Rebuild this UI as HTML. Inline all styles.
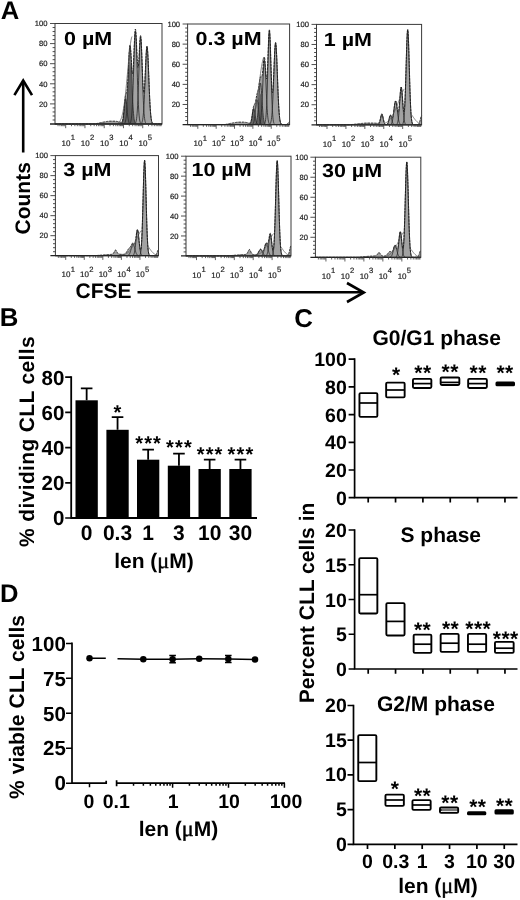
<!DOCTYPE html>
<html lang="en">
<head>
<meta charset="utf-8">
<title>Figure</title>
<style>
html,body{margin:0;padding:0;background:#fff;}
body{width:520px;height:900px;overflow:hidden;}
svg{display:block;}
</style>
</head>
<body>
<svg width="520" height="900" viewBox="0 0 520 900" shape-rendering="geometricPrecision" text-rendering="geometricPrecision">
<rect x="0" y="0" width="520" height="900" fill="#ffffff"/>
<g font-family='"Liberation Sans", sans-serif'>
<text x="0.8" y="19.3" font-size="25.6" font-weight="bold">A</text>
<path d="M55 124 L55 124 L95 124 L95.25 123.91 L95.5 123.84 L95.75 123.78 L96 123.72 L96.25 123.66 L96.5 123.6 L96.75 123.54 L97 123.48 L97.25 123.43 L97.5 123.37 L97.75 123.31 L98 123.26 L98.25 123.2 L98.5 123.15 L98.75 123.09 L99 123.04 L99.25 122.98 L99.5 122.92 L99.75 122.87 L100 122.81 L100.25 122.76 L100.5 122.71 L100.75 122.65 L101 122.6 L101.25 122.54 L101.5 122.49 L101.75 122.44 L102 122.38 L102.25 122.33 L102.5 122.28 L102.75 122.23 L103 122.18 L103.25 122.13 L103.5 122.08 L103.75 122.03 L104 121.98 L104.25 121.94 L104.5 121.89 L104.75 121.85 L105 121.8 L105.25 121.76 L105.5 121.72 L105.75 121.67 L106 121.63 L106.25 121.59 L106.5 121.56 L106.75 121.52 L107 121.48 L107.25 121.45 L107.5 121.41 L107.75 121.38 L108 121.35 L108.25 121.32 L108.5 121.3 L108.75 121.27 L109 121.24 L109.75 121.18 L110 121.16 L115 121.19 L115.25 121.22 L115.5 121.24 L115.75 121.27 L116 121.3 L116.25 121.34 L116.5 121.37 L116.75 121.41 L117 121.45 L117.25 121.49 L117.5 121.53 L117.75 121.58 L118 121.63 L118.25 121.68 L118.5 121.74 L118.75 121.79 L119 121.85 L119.25 121.91 L119.5 121.98 L119.75 122.04 L120 122.11 L120.25 122.17 L120.5 122.23 L120.75 122.28 L121 122.31 L121.25 122.3 L121.5 122.24 L121.75 122.1 L122 121.84 L122.25 121.42 L122.5 120.78 L122.75 119.87 L123 118.64 L123.25 117.06 L123.5 115.12 L123.75 112.85 L124 110.36 L124.25 107.47 L124.5 104.55 L124.75 101.76 L125 99.25 L125.25 97.14 L125.5 95.52 L125.75 94.36 L126 93.59 L126.25 93.03 L126.5 92.48 L126.75 91.66 L127 90.35 L127.25 88.34 L127.5 85.49 L127.75 81.79 L128 77.31 L128.25 72.21 L128.5 66.77 L128.75 61.29 L129 56.15 L129.25 51.67 L129.5 48.18 L129.75 45.9 L130 45 L130.25 45.5 L130.5 47.33 L130.75 50.3 L131 54.12 L131.25 58.44 L131.5 62.85 L131.75 66.93 L132 70.3 L132.25 72.61 L132.5 73.61 L132.75 73.12 L133 71.12 L133.25 67.69 L133.5 63.04 L133.75 57.47 L134 51.41 L134.25 45.3 L134.5 39.63 L134.75 34.84 L135 31.32 L135.25 29.36 L135.5 29.11 L135.75 30.57 L136 33.6 L136.25 37.91 L136.5 43.12 L136.75 48.76 L137 54.33 L137.25 59.35 L137.5 63.39 L137.75 66.13 L138 67.34 L138.25 66.95 L138.5 65.03 L138.75 61.78 L139 57.51 L139.25 52.65 L139.5 47.65 L139.75 43.01 L140 39.18 L140.25 36.55 L140.5 35.4 L140.75 35.91 L141 38.09 L141.25 41.84 L141.5 46.93 L141.75 53.03 L142 59.76 L142.25 66.69 L142.5 73.41 L142.75 79.54 L143 84.74 L143.25 88.76 L143.5 91.43 L143.75 92.63 L144 92.36 L144.25 90.68 L144.5 87.7 L144.75 83.63 L145 78.7 L145.25 73.21 L145.5 67.49 L145.75 61.87 L146 56.7 L146.25 52.3 L146.5 48.95 L146.75 46.87 L147 46.2 L147.25 46.99 L147.5 49.21 L147.75 52.75 L148 57.4 L148.25 62.93 L148.5 69.07 L148.75 75.53 L149 82.04 L149.25 88.36 L149.5 94.31 L149.75 99.73 L150 104.53 L150.25 108.68 L150.5 112.16 L150.75 115.02 L151 117.31 L151.25 119.11 L151.5 120.48 L151.75 121.51 L152 122.27 L152.25 122.81 L152.5 123.19 L152.75 123.45 L153 123.63 L153.25 123.75 L153.5 123.82 L153.75 123.87 L154 123.91 L154.25 123.93 L162 124 L162 124Z" fill="#a2a2a2" stroke="none"/>
<path d="M124.75 124 L124.75 123.31 L125 122.95 L125.25 122.44 L125.5 121.72 L125.75 120.75 L126 119.44 L126.25 117.75 L126.5 115.6 L126.75 112.93 L127 109.71 L127.25 105.94 L127.5 101.62 L127.75 96.83 L128 91.68 L128.25 86.34 L128.5 81 L128.75 75.89 L129 71.26 L129.25 67.36 L129.5 64.39 L129.75 62.54 L130 61.91 L130.25 62.54 L130.5 64.39 L130.75 67.36 L131 71.26 L131.25 75.89 L131.5 81 L131.75 86.34 L132 91.68 L132.25 96.83 L132.5 101.62 L132.75 105.94 L133 109.71 L133.25 112.93 L133.5 115.6 L133.75 117.75 L134 119.44 L134.25 120.75 L134.5 121.72 L134.75 122.44 L135 122.95 L135.25 123.31 L135.25 124Z" fill="#5e5e5e" stroke="none"/>
<path d="M121.6 124 L121.6 123.57 L121.85 123.3 L122.1 122.88 L122.35 122.28 L122.6 121.44 L122.85 120.3 L123.1 118.83 L123.35 117.01 L123.6 114.83 L123.85 112.35 L124.1 109.67 L124.35 106.92 L124.6 104.28 L124.85 101.96 L125.1 100.13 L125.35 98.96 L125.6 98.56 L125.85 98.96 L126.1 100.13 L126.35 101.96 L126.6 104.28 L126.85 106.92 L127.1 109.67 L127.35 112.35 L127.6 114.83 L127.85 117.01 L128.1 118.83 L128.35 120.3 L128.6 121.44 L128.85 122.28 L129.1 122.88 L129.35 123.3 L129.6 123.57 L129.6 124Z" fill="#666" stroke="none"/>
<path d="M121.35 123.75 L121.6 123.57 L121.85 123.3 L122.1 122.88 L122.35 122.28 L122.6 121.44 L122.85 120.3 L123.1 118.83 L123.35 117.01 L123.6 114.83 L123.85 112.35 L124.1 109.67 L124.35 106.92 L124.6 104.28 L124.85 101.96 L125.1 100.13 L125.35 98.96 L125.6 98.56 L125.85 98.96 L126.1 100.13 L126.35 101.96 L126.6 104.28 L126.85 106.92 L127.1 109.67 L127.35 112.35 L127.6 114.83 L127.85 117.01 L128.1 118.83 L128.35 120.3 L128.6 121.44 L128.85 122.28 L129.1 122.88 L129.35 123.3 L129.6 123.57 L129.85 123.75" fill="none" stroke="#262626" stroke-width="0.8"/>
<path d="M124.5 123.44 L124.75 123.14 L125 122.69 L125.25 122.05 L125.5 121.15 L125.75 119.93 L126 118.31 L126.25 116.19 L126.5 113.5 L126.75 110.16 L127 106.14 L127.25 101.42 L127.5 96.02 L127.75 90.04 L128 83.61 L128.25 76.92 L128.5 70.25 L128.75 63.86 L129 58.08 L129.25 53.2 L129.5 49.49 L129.75 47.17 L130 46.38 L130.25 47.17 L130.5 49.49 L130.75 53.2 L131 58.08 L131.25 63.86 L131.5 70.25 L131.75 76.92 L132 83.61 L132.25 90.04 L132.5 96.02 L132.75 101.42 L133 106.14 L133.25 110.16 L133.5 113.5 L133.75 116.19 L134 118.31 L134.25 119.93 L134.5 121.15 L134.75 122.05 L135 122.69 L135.25 123.14 L135.5 123.44" fill="none" stroke="#262626" stroke-width="0.8"/>
<path d="M130.15 123.21 L130.4 122.78 L130.65 122.13 L130.9 121.21 L131.15 119.93 L131.4 118.19 L131.65 115.88 L131.9 112.88 L132.15 109.11 L132.4 104.49 L132.65 98.99 L132.9 92.61 L133.15 85.45 L133.4 77.67 L133.65 69.51 L133.9 61.29 L134.15 53.37 L134.4 46.15 L134.65 40.03 L134.9 35.36 L135.15 32.44 L135.4 31.44 L135.65 32.44 L135.9 35.36 L136.15 40.03 L136.4 46.15 L136.65 53.37 L136.9 61.29 L137.15 69.51 L137.4 77.67 L137.65 85.45 L137.9 92.61 L138.15 98.99 L138.4 104.49 L138.65 109.11 L138.9 112.88 L139.15 115.88 L139.4 118.19 L139.65 119.93 L139.9 121.21 L140.15 122.13 L140.4 122.78 L140.65 123.21" fill="none" stroke="#262626" stroke-width="0.8"/>
<path d="M135.35 123.26 L135.6 122.85 L135.85 122.25 L136.1 121.39 L136.35 120.19 L136.6 118.56 L136.85 116.39 L137.1 113.58 L137.35 110.05 L137.6 105.72 L137.85 100.56 L138.1 94.59 L138.35 87.88 L138.6 80.59 L138.85 72.95 L139.1 65.24 L139.35 57.82 L139.6 51.05 L139.85 45.32 L140.1 40.95 L140.35 38.21 L140.6 37.28 L140.85 38.21 L141.1 40.95 L141.35 45.32 L141.6 51.05 L141.85 57.82 L142.1 65.24 L142.35 72.95 L142.6 80.59 L142.85 87.88 L143.1 94.59 L143.35 100.56 L143.6 105.72 L143.85 110.05 L144.1 113.58 L144.35 116.39 L144.6 118.56 L144.85 120.19 L145.1 121.39 L145.35 122.25 L145.6 122.85 L145.85 123.26" fill="none" stroke="#262626" stroke-width="0.8"/>
<path d="M141.25 123.53 L141.5 123.27 L141.75 122.9 L142 122.37 L142.25 121.62 L142.5 120.6 L142.75 119.24 L143 117.45 L143.25 115.17 L143.5 112.32 L143.75 108.84 L144 104.71 L144.25 99.92 L144.5 94.51 L144.75 88.58 L145 82.27 L145.25 75.77 L145.5 69.33 L145.75 63.21 L146 57.7 L146.25 53.07 L146.5 49.56 L146.75 47.38 L147 46.63 L147.25 47.38 L147.5 49.56 L147.75 53.07 L148 57.7 L148.25 63.21 L148.5 69.33 L148.75 75.77 L149 82.27 L149.25 88.58 L149.5 94.51 L149.75 99.92 L150 104.71 L150.25 108.84 L150.5 112.32 L150.75 115.17 L151 117.45 L151.25 119.24 L151.5 120.6 L151.75 121.62 L152 122.37 L152.25 122.9 L152.5 123.27 L152.75 123.53" fill="none" stroke="#262626" stroke-width="0.8"/>
<path d="M55 124 L95 124 L95.25 123.91 L95.5 123.84 L95.75 123.78 L96 123.72 L96.25 123.66 L96.5 123.6 L96.75 123.54 L97 123.48 L97.25 123.43 L97.5 123.37 L97.75 123.31 L98 123.26 L98.25 123.2 L98.5 123.15 L98.75 123.09 L99 123.04 L99.25 122.98 L99.5 122.92 L99.75 122.87 L100 122.81 L100.25 122.76 L100.5 122.71 L100.75 122.65 L101 122.6 L101.25 122.54 L101.5 122.49 L101.75 122.44 L102 122.38 L102.25 122.33 L102.5 122.28 L102.75 122.23 L103 122.18 L103.25 122.13 L103.5 122.08 L103.75 122.03 L104 121.98 L104.25 121.94 L104.5 121.89 L104.75 121.85 L105 121.8 L105.25 121.76 L105.5 121.72 L105.75 121.67 L106 121.63 L106.25 121.59 L106.5 121.56 L106.75 121.52 L107 121.48 L107.25 121.45 L107.5 121.41 L107.75 121.38 L108 121.35 L108.25 121.32 L108.5 121.3 L108.75 121.27 L109 121.24 L109.75 121.18 L110 121.16 L115 121.19 L115.25 121.22 L115.5 121.24 L115.75 121.27 L116 121.3 L116.25 121.34 L116.5 121.37 L116.75 121.41 L117 121.45 L117.25 121.49 L117.5 121.53 L117.75 121.58 L118 121.63 L118.25 121.68 L118.5 121.74 L118.75 121.79 L119 121.85 L119.25 121.91 L119.5 121.98 L119.75 122.04 L120 122.11 L120.25 122.17 L120.5 122.23 L120.75 122.28 L121 122.31 L121.25 122.3 L121.5 122.24 L121.75 122.1 L122 121.84 L122.25 121.42 L122.5 120.78 L122.75 119.87 L123 118.64 L123.25 117.06 L123.5 115.12 L123.75 112.85 L124 110.36 L124.25 107.47 L124.5 104.55 L124.75 101.76 L125 99.25 L125.25 97.14 L125.5 95.52 L125.75 94.36 L126 93.59 L126.25 93.03 L126.5 92.48 L126.75 91.66 L127 90.35 L127.25 88.34 L127.5 85.49 L127.75 81.79 L128 77.31 L128.25 72.21 L128.5 66.77 L128.75 61.29 L129 56.15 L129.25 51.67 L129.5 48.18 L129.75 45.9 L130 45 L130.25 45.5 L130.5 47.33 L130.75 50.3 L131 54.12 L131.25 58.44 L131.5 62.85 L131.75 66.93 L132 70.3 L132.25 72.61 L132.5 73.61 L132.75 73.12 L133 71.12 L133.25 67.69 L133.5 63.04 L133.75 57.47 L134 51.41 L134.25 45.3 L134.5 39.63 L134.75 34.84 L135 31.32 L135.25 29.36 L135.5 29.11 L135.75 30.57 L136 33.6 L136.25 37.91 L136.5 43.12 L136.75 48.76 L137 54.33 L137.25 59.35 L137.5 63.39 L137.75 66.13 L138 67.34 L138.25 66.95 L138.5 65.03 L138.75 61.78 L139 57.51 L139.25 52.65 L139.5 47.65 L139.75 43.01 L140 39.18 L140.25 36.55 L140.5 35.4 L140.75 35.91 L141 38.09 L141.25 41.84 L141.5 46.93 L141.75 53.03 L142 59.76 L142.25 66.69 L142.5 73.41 L142.75 79.54 L143 84.74 L143.25 88.76 L143.5 91.43 L143.75 92.63 L144 92.36 L144.25 90.68 L144.5 87.7 L144.75 83.63 L145 78.7 L145.25 73.21 L145.5 67.49 L145.75 61.87 L146 56.7 L146.25 52.3 L146.5 48.95 L146.75 46.87 L147 46.2 L147.25 46.99 L147.5 49.21 L147.75 52.75 L148 57.4 L148.25 62.93 L148.5 69.07 L148.75 75.53 L149 82.04 L149.25 88.36 L149.5 94.31 L149.75 99.73 L150 104.53 L150.25 108.68 L150.5 112.16 L150.75 115.02 L151 117.31 L151.25 119.11 L151.5 120.48 L151.75 121.51 L152 122.27 L152.25 122.81 L152.5 123.19 L152.75 123.45 L153 123.63 L153.25 123.75 L153.5 123.82 L153.75 123.87 L154 123.91 L154.25 123.93 L162 124" fill="none" stroke="#1a1a1a" stroke-width="0.9" stroke-dasharray="2.6 0.8"/>
<path d="M118 123.08 L118.5 122.75 L119 122.31 L119.5 121.75 L120 121.04 L120.5 120.13 L121 119.01 L121.5 117.63 L122 115.96 L122.5 113.95 L123 111.59 L123.5 108.83 L124 105.65 L124.5 102.06 L125 98.04 L125.5 93.61 L126 88.82 L126.5 83.71 L127 78.36 L127.5 72.85 L128 67.29 L128.5 61.81 L129 56.54 L129.5 51.61 L130 47.16 L130.5 43.32 L131 40.19 L131.5 37.89 L132 36.48" fill="none" stroke="#555" stroke-width="0.7"/>
<rect x="55" y="23.5" width="107" height="100.5" fill="none" stroke="#3a3a3a" stroke-width="1"/>
<path d="M50 124 H162" stroke="#222" stroke-width="1.3"/>
<path d="M52.6 119.98h2.4 M52.6 115.96h2.4 M52.6 111.94h2.4 M52.6 107.92h2.4 M50 103.9h5 M52.6 99.88h2.4 M52.6 95.86h2.4 M52.6 91.84h2.4 M52.6 87.82h2.4 M50 83.8h5 M52.6 79.78h2.4 M52.6 75.76h2.4 M52.6 71.74h2.4 M52.6 67.72h2.4 M50 63.7h5 M52.6 59.68h2.4 M52.6 55.66h2.4 M52.6 51.64h2.4 M52.6 47.62h2.4 M50 43.6h5 M52.6 39.58h2.4 M52.6 35.56h2.4 M52.6 31.54h2.4 M52.6 27.52h2.4 M50 23.5h5" stroke="#3a3a3a" stroke-width="0.9" fill="none"/>
<text x="47.5" y="106.6" text-anchor="end" font-size="7.6" fill="#222" stroke="#222" stroke-width="0.2">20</text>
<text x="47.5" y="86.5" text-anchor="end" font-size="7.6" fill="#222" stroke="#222" stroke-width="0.2">40</text>
<text x="47.5" y="66.4" text-anchor="end" font-size="7.6" fill="#222" stroke="#222" stroke-width="0.2">60</text>
<text x="47.5" y="46.3" text-anchor="end" font-size="7.6" fill="#222" stroke="#222" stroke-width="0.2">80</text>
<text x="47.5" y="26.2" text-anchor="end" font-size="7.6" fill="#222" stroke="#222" stroke-width="0.2">100</text>
<path d="M58.04 124v2.2 M59.9 124v2.2 M61.43 124v2.2 M62.72 124v2.2 M63.83 124v2.2 M64.82 124v2.2 M65.7 124v4.2 M71.5 124v2.2 M74.89 124v2.2 M77.3 124v2.2 M79.16 124v2.2 M80.69 124v2.2 M81.98 124v2.2 M83.09 124v2.2 M84.08 124v2.2 M84.96 124v4.2 M90.76 124v2.2 M94.15 124v2.2 M96.56 124v2.2 M98.42 124v2.2 M99.95 124v2.2 M101.24 124v2.2 M102.35 124v2.2 M103.34 124v2.2 M104.22 124v4.2 M110.02 124v2.2 M113.41 124v2.2 M115.82 124v2.2 M117.68 124v2.2 M119.21 124v2.2 M120.5 124v2.2 M121.61 124v2.2 M122.6 124v2.2 M123.48 124v4.2 M129.28 124v2.2 M132.67 124v2.2 M135.08 124v2.2 M136.94 124v2.2 M138.47 124v2.2 M139.76 124v2.2 M140.87 124v2.2 M141.86 124v2.2 M142.74 124v4.2 M148.54 124v2.2 M151.93 124v2.2 M154.34 124v2.2 M156.2 124v2.2 M157.73 124v2.2 M159.02 124v2.2 M160.13 124v2.2 M161.12 124v2.2" stroke="#3a3a3a" stroke-width="0.8" fill="none"/>
<text x="61.5" y="145.7" font-size="8" fill="#222" stroke="#222" stroke-width="0.2">10<tspan dy="-5.6" dx="0.3" font-size="7.6">1</tspan></text>
<text x="80.76" y="145.7" font-size="8" fill="#222" stroke="#222" stroke-width="0.2">10<tspan dy="-5.6" dx="0.3" font-size="7.6">2</tspan></text>
<text x="100.02" y="145.7" font-size="8" fill="#222" stroke="#222" stroke-width="0.2">10<tspan dy="-5.6" dx="0.3" font-size="7.6">3</tspan></text>
<text x="119.28" y="145.7" font-size="8" fill="#222" stroke="#222" stroke-width="0.2">10<tspan dy="-5.6" dx="0.3" font-size="7.6">4</tspan></text>
<text x="138.54" y="145.7" font-size="8" fill="#222" stroke="#222" stroke-width="0.2">10<tspan dy="-5.6" dx="0.3" font-size="7.6">5</tspan></text>
<text transform="translate(64 45) scale(1.13 1)" font-size="19" font-weight="bold" fill="#000">0 µM</text>
<path d="M187.6 124.6 L187.6 124.6 L224.85 124.6 L225.1 124.56 L225.35 124.49 L225.6 124.43 L225.85 124.37 L226.1 124.31 L226.35 124.26 L226.6 124.2 L226.85 124.15 L227.1 124.1 L227.35 124.04 L227.6 123.99 L227.85 123.94 L228.1 123.89 L228.35 123.83 L228.6 123.78 L228.85 123.73 L229.1 123.68 L229.35 123.63 L229.6 123.57 L229.85 123.52 L230.1 123.47 L230.35 123.42 L230.6 123.37 L230.85 123.32 L231.1 123.27 L231.35 123.22 L231.6 123.17 L231.85 123.12 L232.1 123.07 L232.35 123.03 L232.6 122.98 L232.85 122.93 L233.1 122.89 L233.35 122.84 L233.6 122.8 L233.85 122.75 L234.1 122.71 L234.35 122.67 L234.6 122.63 L234.85 122.59 L235.1 122.55 L235.35 122.51 L235.6 122.48 L235.85 122.44 L236.1 122.41 L236.35 122.37 L236.6 122.34 L236.85 122.31 L237.1 122.28 L237.35 122.26 L237.6 122.23 L237.85 122.21 L238.1 122.18 L238.35 122.16 L243.6 122.14 L243.85 122.17 L244.1 122.19 L244.35 122.22 L244.6 122.25 L244.85 122.28 L245.1 122.31 L245.35 122.35 L245.6 122.39 L245.85 122.43 L246.1 122.47 L246.35 122.52 L246.6 122.57 L246.85 122.62 L247.1 122.67 L247.35 122.72 L247.6 122.78 L247.85 122.84 L248.1 122.9 L248.35 122.97 L248.6 123.02 L248.85 123.08 L249.1 123.12 L249.6 123.13 L249.85 123.07 L250.1 122.93 L250.35 122.7 L250.6 122.32 L250.85 121.78 L251.1 121.04 L251.35 120.08 L251.6 118.89 L251.85 117.51 L252.1 115.92 L252.35 114.09 L252.6 112.23 L252.85 110.44 L253.1 108.82 L253.35 107.44 L253.6 106.35 L253.85 105.55 L254.1 104.99 L254.35 104.59 L254.6 104.22 L254.85 103.79 L255.1 103.2 L255.35 102.38 L255.6 101.32 L255.85 100.06 L256.1 98.67 L256.35 97.24 L256.6 95.88 L256.85 94.66 L257.1 93.6 L257.35 92.69 L257.6 91.88 L257.85 91.07 L258.1 90.16 L258.35 89.07 L258.6 87.74 L258.85 86.17 L259.1 84.41 L259.35 82.58 L259.6 80.8 L259.85 79.22 L260.1 77.97 L260.35 77.12 L260.6 76.69 L260.85 76.61 L261.1 76.75 L261.35 76.93 L261.6 76.94 L261.85 76.58 L262.1 75.69 L262.35 74.19 L262.6 72.07 L262.85 69.45 L263.1 66.51 L263.35 63.52 L263.6 60.79 L263.85 58.61 L264.1 57.27 L264.35 56.93 L264.6 57.71 L264.85 59.55 L265.1 62.31 L265.35 65.72 L265.6 69.42 L265.85 73 L266.1 76.04 L266.35 78.12 L266.6 78.89 L266.85 78.13 L267.1 75.71 L267.35 71.68 L267.6 66.26 L267.85 59.79 L268.1 52.76 L268.35 45.76 L268.6 39.4 L268.85 34.27 L269.1 30.85 L269.35 29.5 L269.6 30.39 L269.85 33.48 L270.1 38.53 L270.35 45.16 L270.6 52.84 L270.85 61.01 L271.1 69.07 L271.35 76.51 L271.6 82.86 L271.85 87.8 L272.1 91.11 L272.35 92.68 L272.6 92.51 L272.85 90.72 L273.1 87.46 L273.35 83 L273.6 77.61 L273.85 71.64 L274.1 65.43 L274.35 59.36 L274.6 53.8 L274.85 49.07 L275.1 45.48 L275.35 43.24 L275.6 42.5 L275.85 43.32 L276.1 45.65 L276.35 49.37 L276.6 54.28 L276.85 60.12 L277.1 66.6 L277.35 73.42 L277.6 80.29 L277.85 86.97 L278.1 93.24 L278.35 98.96 L278.6 104.04 L278.85 108.41 L279.1 112.09 L279.35 115.11 L279.6 117.53 L279.85 119.43 L280.1 120.88 L280.35 121.97 L280.6 122.76 L280.85 123.33 L281.1 123.74 L281.35 124.01 L281.6 124.2 L281.85 124.33 L282.1 124.41 L282.35 124.46 L282.6 124.5 L282.85 124.52 L283.1 124.54 L285.85 124.54 L286.1 124.5 L286.35 124.45 L286.6 124.38 L286.85 124.27 L287.1 124.12 L287.35 123.92 L287.6 123.67 L287.85 123.38 L288.1 123.05 L288.35 122.7 L288.6 122.36 L288.85 122.06 L289.1 121.81 L289.35 121.65 L289.6 121.6 L289.6 124.6Z" fill="#a2a2a2" stroke="none"/>
<path d="M255.65 124.6 L255.65 124.22 L255.9 124 L256.15 123.68 L256.4 123.23 L256.65 122.6 L256.9 121.75 L257.15 120.64 L257.4 119.22 L257.65 117.48 L257.9 115.4 L258.15 113 L258.4 110.33 L258.65 107.46 L258.9 104.51 L259.15 101.62 L259.4 98.95 L259.65 96.67 L259.9 94.91 L260.15 93.8 L260.4 93.42 L260.65 93.8 L260.9 94.91 L261.15 96.67 L261.4 98.95 L261.65 101.62 L261.9 104.51 L262.15 107.46 L262.4 110.33 L262.65 113 L262.9 115.4 L263.15 117.48 L263.4 119.22 L263.65 120.64 L263.9 121.75 L264.15 122.6 L264.4 123.23 L264.65 123.68 L264.9 124 L265.15 124.22 L265.15 124.6Z" fill="#606060" stroke="none"/>
<path d="M249.7 124.6 L249.7 124.33 L249.95 124.15 L250.2 123.89 L250.45 123.51 L250.7 122.97 L250.95 122.25 L251.2 121.32 L251.45 120.15 L251.7 118.77 L251.95 117.19 L252.2 115.49 L252.45 113.74 L252.7 112.07 L252.95 110.59 L253.2 109.43 L253.45 108.68 L253.7 108.43 L253.95 108.68 L254.2 109.43 L254.45 110.59 L254.7 112.07 L254.95 113.74 L255.2 115.49 L255.45 117.19 L255.7 118.77 L255.95 120.15 L256.2 121.32 L256.45 122.25 L256.7 122.97 L256.95 123.51 L257.2 123.89 L257.45 124.15 L257.7 124.33 L257.7 124.6Z" fill="#6a6a6a" stroke="none"/>
<path d="M249.45 124.44 L249.7 124.33 L249.95 124.15 L250.2 123.89 L250.45 123.51 L250.7 122.97 L250.95 122.25 L251.2 121.32 L251.45 120.15 L251.7 118.77 L251.95 117.19 L252.2 115.49 L252.45 113.74 L252.7 112.07 L252.95 110.59 L253.2 109.43 L253.45 108.68 L253.7 108.43 L253.95 108.68 L254.2 109.43 L254.45 110.59 L254.7 112.07 L254.95 113.74 L255.2 115.49 L255.45 117.19 L255.7 118.77 L255.95 120.15 L256.2 121.32 L256.45 122.25 L256.7 122.97 L256.95 123.51 L257.2 123.89 L257.45 124.15 L257.7 124.33 L257.95 124.44" fill="none" stroke="#262626" stroke-width="0.8"/>
<path d="M252.25 124.44 L252.5 124.32 L252.75 124.15 L253 123.89 L253.25 123.51 L253.5 122.97 L253.75 122.23 L254 121.24 L254.25 119.98 L254.5 118.41 L254.75 116.55 L255 114.4 L255.25 112.04 L255.5 109.55 L255.75 107.07 L256 104.74 L256.25 102.71 L256.5 101.13 L256.75 100.14 L257 99.79 L257.25 100.14 L257.5 101.13 L257.75 102.71 L258 104.74 L258.25 107.07 L258.5 109.55 L258.75 112.04 L259 114.4 L259.25 116.55 L259.5 118.41 L259.75 119.98 L260 121.24 L260.25 122.23 L260.5 122.97 L260.75 123.51 L261 123.89 L261.25 124.15 L261.5 124.32 L261.75 124.44" fill="none" stroke="#262626" stroke-width="0.8"/>
<path d="M255.4 124.29 L255.65 124.09 L255.9 123.8 L256.15 123.38 L256.4 122.77 L256.65 121.93 L256.9 120.8 L257.15 119.32 L257.4 117.43 L257.65 115.11 L257.9 112.34 L258.15 109.13 L258.4 105.57 L258.65 101.74 L258.9 97.81 L259.15 93.96 L259.4 90.41 L259.65 87.36 L259.9 85.01 L260.15 83.54 L260.4 83.03 L260.65 83.54 L260.9 85.01 L261.15 87.36 L261.4 90.41 L261.65 93.96 L261.9 97.81 L262.15 101.74 L262.4 105.57 L262.65 109.13 L262.9 112.34 L263.15 115.11 L263.4 117.43 L263.65 119.32 L263.9 120.8 L264.15 121.93 L264.4 122.77 L264.65 123.38 L264.9 123.8 L265.15 124.09 L265.4 124.29" fill="none" stroke="#262626" stroke-width="0.8"/>
<path d="M259.15 124.19 L259.4 123.95 L259.65 123.58 L259.9 123.04 L260.15 122.27 L260.4 121.2 L260.65 119.74 L260.9 117.82 L261.15 115.36 L261.4 112.29 L261.65 108.57 L261.9 104.2 L262.15 99.23 L262.4 93.76 L262.65 87.97 L262.9 82.07 L263.15 76.35 L263.4 71.1 L263.65 66.62 L263.9 63.2 L264.15 61.05 L264.4 60.31 L264.65 61.05 L264.9 63.2 L265.15 66.62 L265.4 71.1 L265.65 76.35 L265.9 82.07 L266.15 87.97 L266.4 93.76 L266.65 99.23 L266.9 104.2 L267.15 108.57 L267.4 112.29 L267.65 115.36 L267.9 117.82 L268.15 119.74 L268.4 121.2 L268.65 122.27 L268.9 123.04 L269.15 123.58 L269.4 123.95 L269.65 124.19" fill="none" stroke="#262626" stroke-width="0.8"/>
<path d="M264.65 123.75 L264.9 123.22 L265.15 122.42 L265.4 121.26 L265.65 119.6 L265.9 117.31 L266.15 114.24 L266.4 110.26 L266.65 105.26 L266.9 99.18 L267.15 92.05 L267.4 84 L267.65 75.25 L267.9 66.16 L268.15 57.17 L268.4 48.8 L268.65 41.57 L268.9 35.99 L269.15 32.46 L269.4 31.26 L269.65 32.46 L269.9 35.99 L270.15 41.57 L270.4 48.8 L270.65 57.17 L270.9 66.16 L271.15 75.25 L271.4 84 L271.65 92.05 L271.9 99.18 L272.15 105.26 L272.4 110.26 L272.65 114.24 L272.9 117.31 L273.15 119.6 L273.4 121.26 L273.65 122.42 L273.9 123.22 L274.15 123.75" fill="none" stroke="#262626" stroke-width="0.8"/>
<path d="M269.85 124.1 L270.1 123.83 L270.35 123.44 L270.6 122.88 L270.85 122.09 L271.1 121.01 L271.35 119.57 L271.6 117.69 L271.85 115.28 L272.1 112.27 L272.35 108.6 L272.6 104.23 L272.85 99.17 L273.1 93.47 L273.35 87.2 L273.6 80.54 L273.85 73.68 L274.1 66.88 L274.35 60.42 L274.6 54.6 L274.85 49.71 L275.1 46.01 L275.35 43.71 L275.6 42.92 L275.85 43.71 L276.1 46.01 L276.35 49.71 L276.6 54.6 L276.85 60.42 L277.1 66.88 L277.35 73.68 L277.6 80.54 L277.85 87.2 L278.1 93.47 L278.35 99.17 L278.6 104.23 L278.85 108.6 L279.1 112.27 L279.35 115.28 L279.6 117.69 L279.85 119.57 L280.1 121.01 L280.35 122.09 L280.6 122.88 L280.85 123.44 L281.1 123.83 L281.35 124.1" fill="none" stroke="#262626" stroke-width="0.8"/>
<path d="M187.6 124.6 L224.85 124.6 L225.1 124.56 L225.35 124.49 L225.6 124.43 L225.85 124.37 L226.1 124.31 L226.35 124.26 L226.6 124.2 L226.85 124.15 L227.1 124.1 L227.35 124.04 L227.6 123.99 L227.85 123.94 L228.1 123.89 L228.35 123.83 L228.6 123.78 L228.85 123.73 L229.1 123.68 L229.35 123.63 L229.6 123.57 L229.85 123.52 L230.1 123.47 L230.35 123.42 L230.6 123.37 L230.85 123.32 L231.1 123.27 L231.35 123.22 L231.6 123.17 L231.85 123.12 L232.1 123.07 L232.35 123.03 L232.6 122.98 L232.85 122.93 L233.1 122.89 L233.35 122.84 L233.6 122.8 L233.85 122.75 L234.1 122.71 L234.35 122.67 L234.6 122.63 L234.85 122.59 L235.1 122.55 L235.35 122.51 L235.6 122.48 L235.85 122.44 L236.1 122.41 L236.35 122.37 L236.6 122.34 L236.85 122.31 L237.1 122.28 L237.35 122.26 L237.6 122.23 L237.85 122.21 L238.1 122.18 L238.35 122.16 L243.6 122.14 L243.85 122.17 L244.1 122.19 L244.35 122.22 L244.6 122.25 L244.85 122.28 L245.1 122.31 L245.35 122.35 L245.6 122.39 L245.85 122.43 L246.1 122.47 L246.35 122.52 L246.6 122.57 L246.85 122.62 L247.1 122.67 L247.35 122.72 L247.6 122.78 L247.85 122.84 L248.1 122.9 L248.35 122.97 L248.6 123.02 L248.85 123.08 L249.1 123.12 L249.6 123.13 L249.85 123.07 L250.1 122.93 L250.35 122.7 L250.6 122.32 L250.85 121.78 L251.1 121.04 L251.35 120.08 L251.6 118.89 L251.85 117.51 L252.1 115.92 L252.35 114.09 L252.6 112.23 L252.85 110.44 L253.1 108.82 L253.35 107.44 L253.6 106.35 L253.85 105.55 L254.1 104.99 L254.35 104.59 L254.6 104.22 L254.85 103.79 L255.1 103.2 L255.35 102.38 L255.6 101.32 L255.85 100.06 L256.1 98.67 L256.35 97.24 L256.6 95.88 L256.85 94.66 L257.1 93.6 L257.35 92.69 L257.6 91.88 L257.85 91.07 L258.1 90.16 L258.35 89.07 L258.6 87.74 L258.85 86.17 L259.1 84.41 L259.35 82.58 L259.6 80.8 L259.85 79.22 L260.1 77.97 L260.35 77.12 L260.6 76.69 L260.85 76.61 L261.1 76.75 L261.35 76.93 L261.6 76.94 L261.85 76.58 L262.1 75.69 L262.35 74.19 L262.6 72.07 L262.85 69.45 L263.1 66.51 L263.35 63.52 L263.6 60.79 L263.85 58.61 L264.1 57.27 L264.35 56.93 L264.6 57.71 L264.85 59.55 L265.1 62.31 L265.35 65.72 L265.6 69.42 L265.85 73 L266.1 76.04 L266.35 78.12 L266.6 78.89 L266.85 78.13 L267.1 75.71 L267.35 71.68 L267.6 66.26 L267.85 59.79 L268.1 52.76 L268.35 45.76 L268.6 39.4 L268.85 34.27 L269.1 30.85 L269.35 29.5 L269.6 30.39 L269.85 33.48 L270.1 38.53 L270.35 45.16 L270.6 52.84 L270.85 61.01 L271.1 69.07 L271.35 76.51 L271.6 82.86 L271.85 87.8 L272.1 91.11 L272.35 92.68 L272.6 92.51 L272.85 90.72 L273.1 87.46 L273.35 83 L273.6 77.61 L273.85 71.64 L274.1 65.43 L274.35 59.36 L274.6 53.8 L274.85 49.07 L275.1 45.48 L275.35 43.24 L275.6 42.5 L275.85 43.32 L276.1 45.65 L276.35 49.37 L276.6 54.28 L276.85 60.12 L277.1 66.6 L277.35 73.42 L277.6 80.29 L277.85 86.97 L278.1 93.24 L278.35 98.96 L278.6 104.04 L278.85 108.41 L279.1 112.09 L279.35 115.11 L279.6 117.53 L279.85 119.43 L280.1 120.88 L280.35 121.97 L280.6 122.76 L280.85 123.33 L281.1 123.74 L281.35 124.01 L281.6 124.2 L281.85 124.33 L282.1 124.41 L282.35 124.46 L282.6 124.5 L282.85 124.52 L283.1 124.54 L285.85 124.54 L286.1 124.5 L286.35 124.45 L286.6 124.38 L286.85 124.27 L287.1 124.12 L287.35 123.92 L287.6 123.67 L287.85 123.38 L288.1 123.05 L288.35 122.7 L288.6 122.36 L288.85 122.06 L289.1 121.81 L289.35 121.65 L289.6 121.6" fill="none" stroke="#1a1a1a" stroke-width="0.9" stroke-dasharray="2.6 0.8"/>
<path d="M248 124.13 L248.5 123.97 L249 123.76 L249.5 123.49 L250 123.14 L250.5 122.7 L251 122.16 L251.5 121.48 L252 120.66 L252.5 119.67 L253 118.49 L253.5 117.09 L254 115.45 L254.5 113.56 L255 111.41 L255.5 108.97 L256 106.26 L256.5 103.28 L257 100.04 L257.5 96.57 L258 92.9 L258.5 89.09 L259 85.17 L259.5 81.24 L260 77.34 L260.5 73.57 L261 70.01 L261.5 66.74 L262 63.83 L262.5 61.37 L263 59.41 L263.5 58 L264 57.2" fill="none" stroke="#555" stroke-width="0.7"/>
<rect x="187.6" y="24" width="102" height="100.6" fill="none" stroke="#3a3a3a" stroke-width="1"/>
<path d="M182.6 124.6 H289.6" stroke="#222" stroke-width="1.3"/>
<path d="M185.2 120.58h2.4 M185.2 116.55h2.4 M185.2 112.53h2.4 M185.2 108.5h2.4 M182.6 104.48h5 M185.2 100.46h2.4 M185.2 96.43h2.4 M185.2 92.41h2.4 M185.2 88.38h2.4 M182.6 84.36h5 M185.2 80.34h2.4 M185.2 76.31h2.4 M185.2 72.29h2.4 M185.2 68.26h2.4 M182.6 64.24h5 M185.2 60.22h2.4 M185.2 56.19h2.4 M185.2 52.17h2.4 M185.2 48.14h2.4 M182.6 44.12h5 M185.2 40.1h2.4 M185.2 36.07h2.4 M185.2 32.05h2.4 M185.2 28.02h2.4 M182.6 24h5" stroke="#3a3a3a" stroke-width="0.9" fill="none"/>
<text x="180.1" y="107.18" text-anchor="end" font-size="7.6" fill="#222" stroke="#222" stroke-width="0.2">20</text>
<text x="180.1" y="87.06" text-anchor="end" font-size="7.6" fill="#222" stroke="#222" stroke-width="0.2">40</text>
<text x="180.1" y="66.94" text-anchor="end" font-size="7.6" fill="#222" stroke="#222" stroke-width="0.2">60</text>
<text x="180.1" y="46.82" text-anchor="end" font-size="7.6" fill="#222" stroke="#222" stroke-width="0.2">80</text>
<text x="180.1" y="26.7" text-anchor="end" font-size="7.6" fill="#222" stroke="#222" stroke-width="0.2">100</text>
<path d="M190.49 124.6v2.2 M192.27 124.6v2.2 M193.73 124.6v2.2 M194.96 124.6v2.2 M196.02 124.6v2.2 M196.96 124.6v2.2 M197.8 124.6v4.2 M203.33 124.6v2.2 M206.56 124.6v2.2 M208.85 124.6v2.2 M210.63 124.6v2.2 M212.09 124.6v2.2 M213.32 124.6v2.2 M214.38 124.6v2.2 M215.32 124.6v2.2 M216.16 124.6v4.2 M221.69 124.6v2.2 M224.92 124.6v2.2 M227.21 124.6v2.2 M228.99 124.6v2.2 M230.45 124.6v2.2 M231.68 124.6v2.2 M232.74 124.6v2.2 M233.68 124.6v2.2 M234.52 124.6v4.2 M240.05 124.6v2.2 M243.28 124.6v2.2 M245.57 124.6v2.2 M247.35 124.6v2.2 M248.81 124.6v2.2 M250.04 124.6v2.2 M251.1 124.6v2.2 M252.04 124.6v2.2 M252.88 124.6v4.2 M258.41 124.6v2.2 M261.64 124.6v2.2 M263.93 124.6v2.2 M265.71 124.6v2.2 M267.17 124.6v2.2 M268.4 124.6v2.2 M269.46 124.6v2.2 M270.4 124.6v2.2 M271.24 124.6v4.2 M276.77 124.6v2.2 M280 124.6v2.2 M282.29 124.6v2.2 M284.07 124.6v2.2 M285.53 124.6v2.2 M286.76 124.6v2.2 M287.82 124.6v2.2 M288.76 124.6v2.2" stroke="#3a3a3a" stroke-width="0.8" fill="none"/>
<text x="193.6" y="146.3" font-size="8" fill="#222" stroke="#222" stroke-width="0.2">10<tspan dy="-5.6" dx="0.3" font-size="7.6">1</tspan></text>
<text x="211.96" y="146.3" font-size="8" fill="#222" stroke="#222" stroke-width="0.2">10<tspan dy="-5.6" dx="0.3" font-size="7.6">2</tspan></text>
<text x="230.32" y="146.3" font-size="8" fill="#222" stroke="#222" stroke-width="0.2">10<tspan dy="-5.6" dx="0.3" font-size="7.6">3</tspan></text>
<text x="248.68" y="146.3" font-size="8" fill="#222" stroke="#222" stroke-width="0.2">10<tspan dy="-5.6" dx="0.3" font-size="7.6">4</tspan></text>
<text x="267.04" y="146.3" font-size="8" fill="#222" stroke="#222" stroke-width="0.2">10<tspan dy="-5.6" dx="0.3" font-size="7.6">5</tspan></text>
<text transform="translate(195.5 45) scale(1.13 1)" font-size="19" font-weight="bold" fill="#000">0.3 µM</text>
<path d="M316.5 124.8 L316.5 124.8 L350 124.8 L350.25 124.75 L350.5 124.71 L350.75 124.68 L351 124.64 L351.25 124.61 L351.5 124.58 L351.75 124.55 L352 124.52 L352.25 124.49 L352.5 124.46 L352.75 124.43 L353 124.4 L353.25 124.37 L353.5 124.34 L353.75 124.31 L354 124.28 L354.25 124.25 L354.5 124.22 L354.75 124.19 L355 124.16 L355.25 124.13 L355.5 124.1 L355.75 124.07 L356 124.04 L356.25 124.01 L356.5 123.98 L356.75 123.96 L357 123.93 L357.25 123.9 L357.5 123.87 L357.75 123.84 L358 123.81 L358.25 123.79 L358.5 123.76 L358.75 123.73 L359 123.7 L359.25 123.68 L359.5 123.65 L359.75 123.62 L360 123.6 L360.25 123.57 L360.5 123.55 L360.75 123.52 L361 123.5 L361.25 123.47 L361.5 123.45 L361.75 123.42 L362 123.4 L362.25 123.38 L362.5 123.36 L362.75 123.33 L363.25 123.29 L363.5 123.27 L364 123.23 L364.25 123.21 L364.75 123.18 L365 123.16 L366.25 123.09 L366.5 123.07 L374.75 123.13 L375 123.15 L375.75 123.21 L376 123.23 L376.25 123.26 L376.5 123.28 L376.75 123.31 L377.75 123.37 L378 123.35 L378.25 123.3 L378.5 123.19 L378.75 123.02 L379 122.75 L379.25 122.36 L379.5 121.81 L379.75 121.1 L380 120.23 L380.25 119.21 L380.5 118.09 L380.75 116.95 L381 115.86 L381.25 114.92 L381.5 114.24 L381.75 113.89 L382 113.91 L382.25 114.3 L382.5 115.04 L382.75 116.05 L383 117.23 L383.25 118.5 L383.5 119.76 L383.75 120.94 L384 122.01 L384.25 122.79 L384.5 123.41 L384.75 123.87 L385 124.2 L385.25 124.42 L385.5 124.57 L385.75 124.66 L386 124.7 L386.25 124.7 L386.5 124.67 L386.75 124.6 L387 124.48 L387.25 124.29 L387.5 124 L387.75 123.6 L388 123.06 L388.25 122.36 L388.5 121.5 L388.75 120.51 L389 119.42 L389.25 118.3 L389.5 117.22 L389.75 116.28 L390 115.56 L390.25 115.12 L390.5 114.99 L390.75 115.16 L391 115.58 L391.25 116.16 L391.5 116.81 L391.75 117.38 L392 117.78 L392.25 117.91 L392.5 117.7 L392.75 117.1 L393 116.13 L393.25 114.79 L393.5 113.16 L393.75 111.31 L394 109.33 L394.25 107.34 L394.5 105.46 L394.75 103.79 L395 102.45 L395.25 101.51 L395.5 101.05 L395.75 101.08 L396 101.59 L396.25 102.55 L396.5 103.87 L396.75 105.44 L397 107.12 L397.25 108.79 L397.5 110.28 L397.75 111.45 L398 112.16 L398.25 112.3 L398.5 111.8 L398.75 110.61 L399 108.73 L399.25 106.25 L399.5 103.27 L399.75 99.98 L400 96.61 L400.25 93.41 L400.5 90.64 L400.75 88.54 L401 87.29 L401.25 87.03 L401.5 87.77 L401.75 89.45 L402 91.94 L402.25 95.02 L402.5 98.43 L402.75 101.91 L403 105.19 L403.25 108 L403.5 110.14 L403.75 111.4 L404 111.64 L404.25 110.72 L404.5 108.57 L404.75 105.11 L405 100.36 L405.25 94.34 L405.5 87.19 L405.75 79.12 L406 70.44 L406.25 61.53 L406.5 52.87 L406.75 44.95 L407 38.27 L407.25 33.28 L407.5 30.34 L407.75 29.65 L408 31.26 L408.25 35.06 L408.5 40.79 L408.75 48.05 L409 56.37 L409.25 65.26 L409.5 74.24 L409.75 82.91 L410 90.92 L410.25 98.07 L410.5 104.21 L410.75 109.33 L411 113.45 L411.25 116.68 L411.5 119.13 L411.75 120.93 L412 122.23 L412.25 123.13 L412.5 123.74 L412.75 124.15 L413 124.41 L413.25 124.57 L413.5 124.67 L413.75 124.73 L414 124.76 L417.25 124.77 L417.5 124.74 L417.75 124.69 L418 124.61 L418.25 124.47 L418.5 124.28 L418.75 123.99 L419 123.58 L419.25 123.04 L419.5 122.36 L419.75 121.53 L420 120.58 L420.25 119.55 L420.5 118.51 L420.75 117.53 L421 116.71 L421.25 116.12 L421.5 115.83 L421.6 124.8Z" fill="#a2a2a2" stroke="none"/>
<path d="M377.9 124.71 L378.15 124.64 L378.4 124.53 L378.65 124.35 L378.9 124.08 L379.15 123.7 L379.4 123.18 L379.65 122.5 L379.9 121.65 L380.15 120.64 L380.4 119.51 L380.65 118.31 L380.9 117.14 L381.15 116.08 L381.4 115.23 L381.65 114.69 L381.9 114.5 L382.15 114.69 L382.4 115.23 L382.65 116.08 L382.9 117.14 L383.15 118.31 L383.4 119.51 L383.65 120.64 L383.9 121.65 L384.15 122.5 L384.4 123.18 L384.65 123.7 L384.9 124.08 L385.15 124.35 L385.4 124.53 L385.65 124.64 L385.9 124.71" fill="none" stroke="#262626" stroke-width="0.8"/>
<path d="M386.4 124.72 L386.65 124.65 L386.9 124.54 L387.15 124.38 L387.4 124.13 L387.65 123.78 L387.9 123.29 L388.15 122.66 L388.4 121.87 L388.65 120.93 L388.9 119.88 L389.15 118.77 L389.4 117.67 L389.65 116.69 L389.9 115.9 L390.15 115.4 L390.4 115.22 L390.65 115.4 L390.9 115.9 L391.15 116.69 L391.4 117.67 L391.65 118.77 L391.9 119.88 L392.15 120.93 L392.4 121.87 L392.65 122.66 L392.9 123.29 L393.15 123.78 L393.4 124.13 L393.65 124.38 L393.9 124.54 L394.15 124.65 L394.4 124.72" fill="none" stroke="#262626" stroke-width="0.8"/>
<path d="M390.35 124.6 L390.6 124.49 L390.85 124.32 L391.1 124.08 L391.35 123.76 L391.6 123.31 L391.85 122.71 L392.1 121.95 L392.35 120.98 L392.6 119.79 L392.85 118.38 L393.1 116.74 L393.35 114.9 L393.6 112.91 L393.85 110.81 L394.1 108.7 L394.35 106.67 L394.6 104.81 L394.85 103.24 L395.1 102.04 L395.35 101.29 L395.6 101.04 L395.85 101.29 L396.1 102.04 L396.35 103.24 L396.6 104.81 L396.85 106.67 L397.1 108.7 L397.35 110.81 L397.6 112.91 L397.85 114.9 L398.1 116.74 L398.35 118.38 L398.6 119.79 L398.85 120.98 L399.1 121.95 L399.35 122.71 L399.6 123.31 L399.85 123.76 L400.1 124.08 L400.35 124.32 L400.6 124.49 L400.85 124.6" fill="none" stroke="#262626" stroke-width="0.8"/>
<path d="M396.45 124.55 L396.7 124.38 L396.95 124.12 L397.2 123.72 L397.45 123.14 L397.7 122.32 L397.95 121.2 L398.2 119.7 L398.45 117.78 L398.7 115.41 L398.95 112.57 L399.2 109.31 L399.45 105.73 L399.7 101.95 L399.95 98.18 L400.2 94.64 L400.45 91.56 L400.7 89.17 L400.95 87.65 L401.2 87.13 L401.45 87.65 L401.7 89.17 L401.95 91.56 L402.2 94.64 L402.45 98.18 L402.7 101.95 L402.95 105.73 L403.2 109.31 L403.45 112.57 L403.7 115.41 L403.95 117.78 L404.2 119.7 L404.45 121.2 L404.7 122.32 L404.95 123.14 L405.2 123.72 L405.45 124.12 L405.7 124.38 L405.95 124.55" fill="none" stroke="#262626" stroke-width="0.8"/>
<path d="M402.7 124.08 L402.95 123.64 L403.2 122.98 L403.45 122 L403.7 120.62 L403.95 118.69 L404.2 116.1 L404.45 112.7 L404.7 108.39 L404.95 103.07 L405.2 96.71 L405.45 89.38 L405.7 81.22 L405.95 72.46 L406.2 63.46 L406.45 54.64 L406.7 46.49 L406.95 39.51 L407.2 34.14 L407.45 30.76 L407.7 29.6 L407.95 30.76 L408.2 34.14 L408.45 39.51 L408.7 46.49 L408.95 54.64 L409.2 63.46 L409.45 72.46 L409.7 81.22 L409.95 89.38 L410.2 96.71 L410.45 103.07 L410.7 108.39 L410.95 112.7 L411.2 116.1 L411.45 118.69 L411.7 120.62 L411.95 122 L412.2 122.98 L412.45 123.64 L412.7 124.08" fill="none" stroke="#262626" stroke-width="0.8"/>
<path d="M316.5 124.8 L350 124.8 L350.25 124.75 L350.5 124.71 L350.75 124.68 L351 124.64 L351.25 124.61 L351.5 124.58 L351.75 124.55 L352 124.52 L352.25 124.49 L352.5 124.46 L352.75 124.43 L353 124.4 L353.25 124.37 L353.5 124.34 L353.75 124.31 L354 124.28 L354.25 124.25 L354.5 124.22 L354.75 124.19 L355 124.16 L355.25 124.13 L355.5 124.1 L355.75 124.07 L356 124.04 L356.25 124.01 L356.5 123.98 L356.75 123.96 L357 123.93 L357.25 123.9 L357.5 123.87 L357.75 123.84 L358 123.81 L358.25 123.79 L358.5 123.76 L358.75 123.73 L359 123.7 L359.25 123.68 L359.5 123.65 L359.75 123.62 L360 123.6 L360.25 123.57 L360.5 123.55 L360.75 123.52 L361 123.5 L361.25 123.47 L361.5 123.45 L361.75 123.42 L362 123.4 L362.25 123.38 L362.5 123.36 L362.75 123.33 L363.25 123.29 L363.5 123.27 L364 123.23 L364.25 123.21 L364.75 123.18 L365 123.16 L366.25 123.09 L366.5 123.07 L374.75 123.13 L375 123.15 L375.75 123.21 L376 123.23 L376.25 123.26 L376.5 123.28 L376.75 123.31 L377.75 123.37 L378 123.35 L378.25 123.3 L378.5 123.19 L378.75 123.02 L379 122.75 L379.25 122.36 L379.5 121.81 L379.75 121.1 L380 120.23 L380.25 119.21 L380.5 118.09 L380.75 116.95 L381 115.86 L381.25 114.92 L381.5 114.24 L381.75 113.89 L382 113.91 L382.25 114.3 L382.5 115.04 L382.75 116.05 L383 117.23 L383.25 118.5 L383.5 119.76 L383.75 120.94 L384 122.01 L384.25 122.79 L384.5 123.41 L384.75 123.87 L385 124.2 L385.25 124.42 L385.5 124.57 L385.75 124.66 L386 124.7 L386.25 124.7 L386.5 124.67 L386.75 124.6 L387 124.48 L387.25 124.29 L387.5 124 L387.75 123.6 L388 123.06 L388.25 122.36 L388.5 121.5 L388.75 120.51 L389 119.42 L389.25 118.3 L389.5 117.22 L389.75 116.28 L390 115.56 L390.25 115.12 L390.5 114.99 L390.75 115.16 L391 115.58 L391.25 116.16 L391.5 116.81 L391.75 117.38 L392 117.78 L392.25 117.91 L392.5 117.7 L392.75 117.1 L393 116.13 L393.25 114.79 L393.5 113.16 L393.75 111.31 L394 109.33 L394.25 107.34 L394.5 105.46 L394.75 103.79 L395 102.45 L395.25 101.51 L395.5 101.05 L395.75 101.08 L396 101.59 L396.25 102.55 L396.5 103.87 L396.75 105.44 L397 107.12 L397.25 108.79 L397.5 110.28 L397.75 111.45 L398 112.16 L398.25 112.3 L398.5 111.8 L398.75 110.61 L399 108.73 L399.25 106.25 L399.5 103.27 L399.75 99.98 L400 96.61 L400.25 93.41 L400.5 90.64 L400.75 88.54 L401 87.29 L401.25 87.03 L401.5 87.77 L401.75 89.45 L402 91.94 L402.25 95.02 L402.5 98.43 L402.75 101.91 L403 105.19 L403.25 108 L403.5 110.14 L403.75 111.4 L404 111.64 L404.25 110.72 L404.5 108.57 L404.75 105.11 L405 100.36 L405.25 94.34 L405.5 87.19 L405.75 79.12 L406 70.44 L406.25 61.53 L406.5 52.87 L406.75 44.95 L407 38.27 L407.25 33.28 L407.5 30.34 L407.75 29.65 L408 31.26 L408.25 35.06 L408.5 40.79 L408.75 48.05 L409 56.37 L409.25 65.26 L409.5 74.24 L409.75 82.91 L410 90.92 L410.25 98.07 L410.5 104.21 L410.75 109.33 L411 113.45 L411.25 116.68 L411.5 119.13 L411.75 120.93 L412 122.23 L412.25 123.13 L412.5 123.74 L412.75 124.15 L413 124.41 L413.25 124.57 L413.5 124.67 L413.75 124.73 L414 124.76 L417.25 124.77 L417.5 124.74 L417.75 124.69 L418 124.61 L418.25 124.47 L418.5 124.28 L418.75 123.99 L419 123.58 L419.25 123.04 L419.5 122.36 L419.75 121.53 L420 120.58 L420.25 119.55 L420.5 118.51 L420.75 117.53 L421 116.71 L421.25 116.12 L421.5 115.83" fill="none" stroke="#1a1a1a" stroke-width="0.9" stroke-dasharray="2.6 0.8"/>
<path d="M384 123.59 L384.5 123.4 L385 123.19 L385.5 122.95 L386 122.68 L386.5 122.38 L387 122.04 L387.5 121.67 L388 121.26 L388.5 120.81 L389 120.32 L389.5 119.78 L390 119.19 L390.5 118.55 L391 117.86 L391.5 117.12 L392 116.33 L392.5 115.48 L393 114.58 L393.5 113.62 L394 112.62 L394.5 111.57 L395 110.46 L395.5 109.32 L396 108.13 L396.5 106.91 L397 105.66 L397.5 104.39 L398 103.09 L398.5 101.79 L399 100.48 L399.5 99.18 L400 97.89 L400.5 96.63 L401 95.39 L401.5 94.2 L402 93.05 L402.5 91.96 L403 90.95 L403.5 90 L404 89.14" fill="none" stroke="#555" stroke-width="0.7"/>
<path d="M411 114.11 L411.5 114.72 L412 115.37 L412.5 116.05 L413 116.75 L413.5 117.46 L414 118.16 L414.5 118.84 L415 119.5 L415.5 120.12 L416 120.7 L416.5 121.24 L417 121.74 L417.5 122.18 L418 122.58 L418.5 122.94 L419 123.25 L419.5 123.52 L420 123.75" fill="none" stroke="#555" stroke-width="0.7"/>
<rect x="316.5" y="24.4" width="105.1" height="100.4" fill="none" stroke="#3a3a3a" stroke-width="1"/>
<path d="M311.5 124.8 H421.6" stroke="#222" stroke-width="1.3"/>
<path d="M314.1 120.78h2.4 M314.1 116.77h2.4 M314.1 112.75h2.4 M314.1 108.74h2.4 M311.5 104.72h5 M314.1 100.7h2.4 M314.1 96.69h2.4 M314.1 92.67h2.4 M314.1 88.66h2.4 M311.5 84.64h5 M314.1 80.62h2.4 M314.1 76.61h2.4 M314.1 72.59h2.4 M314.1 68.58h2.4 M311.5 64.56h5 M314.1 60.54h2.4 M314.1 56.53h2.4 M314.1 52.51h2.4 M314.1 48.5h2.4 M311.5 44.48h5 M314.1 40.46h2.4 M314.1 36.45h2.4 M314.1 32.43h2.4 M314.1 28.42h2.4 M311.5 24.4h5" stroke="#3a3a3a" stroke-width="0.9" fill="none"/>
<text x="309" y="107.42" text-anchor="end" font-size="7.6" fill="#222" stroke="#222" stroke-width="0.2">20</text>
<text x="309" y="87.34" text-anchor="end" font-size="7.6" fill="#222" stroke="#222" stroke-width="0.2">40</text>
<text x="309" y="67.26" text-anchor="end" font-size="7.6" fill="#222" stroke="#222" stroke-width="0.2">60</text>
<text x="309" y="47.18" text-anchor="end" font-size="7.6" fill="#222" stroke="#222" stroke-width="0.2">80</text>
<text x="309" y="27.1" text-anchor="end" font-size="7.6" fill="#222" stroke="#222" stroke-width="0.2">100</text>
<path d="M319.48 124.8v2.2 M321.32 124.8v2.2 M322.81 124.8v2.2 M324.08 124.8v2.2 M325.18 124.8v2.2 M326.14 124.8v2.2 M327.01 124.8v4.2 M332.7 124.8v2.2 M336.04 124.8v2.2 M338.4 124.8v2.2 M340.23 124.8v2.2 M341.73 124.8v2.2 M343 124.8v2.2 M344.09 124.8v2.2 M345.06 124.8v2.2 M345.93 124.8v4.2 M351.62 124.8v2.2 M354.95 124.8v2.2 M357.32 124.8v2.2 M359.15 124.8v2.2 M360.65 124.8v2.2 M361.92 124.8v2.2 M363.01 124.8v2.2 M363.98 124.8v2.2 M364.85 124.8v4.2 M370.54 124.8v2.2 M373.87 124.8v2.2 M376.24 124.8v2.2 M378.07 124.8v2.2 M379.57 124.8v2.2 M380.83 124.8v2.2 M381.93 124.8v2.2 M382.9 124.8v2.2 M383.76 124.8v4.2 M389.46 124.8v2.2 M392.79 124.8v2.2 M395.15 124.8v2.2 M396.99 124.8v2.2 M398.49 124.8v2.2 M399.75 124.8v2.2 M400.85 124.8v2.2 M401.82 124.8v2.2 M402.68 124.8v4.2 M408.38 124.8v2.2 M411.71 124.8v2.2 M414.07 124.8v2.2 M415.91 124.8v2.2 M417.4 124.8v2.2 M418.67 124.8v2.2 M419.77 124.8v2.2 M420.73 124.8v2.2" stroke="#3a3a3a" stroke-width="0.8" fill="none"/>
<text x="322.81" y="146.5" font-size="8" fill="#222" stroke="#222" stroke-width="0.2">10<tspan dy="-5.6" dx="0.3" font-size="7.6">1</tspan></text>
<text x="341.73" y="146.5" font-size="8" fill="#222" stroke="#222" stroke-width="0.2">10<tspan dy="-5.6" dx="0.3" font-size="7.6">2</tspan></text>
<text x="360.65" y="146.5" font-size="8" fill="#222" stroke="#222" stroke-width="0.2">10<tspan dy="-5.6" dx="0.3" font-size="7.6">3</tspan></text>
<text x="379.56" y="146.5" font-size="8" fill="#222" stroke="#222" stroke-width="0.2">10<tspan dy="-5.6" dx="0.3" font-size="7.6">4</tspan></text>
<text x="398.48" y="146.5" font-size="8" fill="#222" stroke="#222" stroke-width="0.2">10<tspan dy="-5.6" dx="0.3" font-size="7.6">5</tspan></text>
<text transform="translate(323.8 46) scale(1.13 1)" font-size="19" font-weight="bold" fill="#000">1 µM</text>
<path d="M55.4 255.7 L55.4 255.7 L95.15 255.68 L95.4 255.65 L95.65 255.62 L95.9 255.59 L96.15 255.57 L96.4 255.55 L96.65 255.52 L96.9 255.5 L97.15 255.48 L97.4 255.46 L97.65 255.43 L97.9 255.41 L98.15 255.39 L98.4 255.37 L98.65 255.34 L98.9 255.32 L99.15 255.3 L99.4 255.28 L99.65 255.26 L99.9 255.24 L100.15 255.21 L100.4 255.19 L100.65 255.17 L100.9 255.15 L101.15 255.13 L101.4 255.11 L101.65 255.08 L101.9 255.06 L102.15 255.04 L102.4 255.02 L102.65 255 L102.9 254.98 L103.15 254.96 L103.4 254.94 L103.65 254.92 L103.9 254.89 L104.15 254.87 L104.4 254.85 L104.65 254.83 L104.9 254.81 L105.15 254.79 L105.9 254.74 L106.15 254.72 L106.4 254.7 L106.65 254.68 L106.9 254.66 L107.15 254.64 L107.65 254.61 L107.9 254.59 L108.15 254.57 L108.4 254.56 L108.65 254.54 L108.9 254.53 L109.15 254.51 L110.4 254.44 L110.65 254.42 L111.15 254.39 L111.4 254.36 L111.65 254.33 L111.9 254.29 L112.15 254.23 L112.4 254.14 L112.65 254.01 L112.9 253.83 L113.15 253.6 L113.4 253.3 L113.65 252.93 L113.9 252.5 L114.15 252.03 L114.4 251.53 L114.65 251.05 L114.9 250.63 L115.15 250.3 L115.4 250.1 L115.65 250.05 L115.9 250.16 L116.15 250.4 L116.4 250.77 L116.65 251.21 L116.9 251.69 L117.15 252.18 L117.4 252.63 L117.65 253.03 L117.9 253.36 L118.15 253.63 L118.4 253.84 L118.65 253.98 L118.9 254.09 L119.15 254.16 L119.4 254.21 L119.65 254.24 L119.9 254.26 L120.15 254.28 L123.15 254.36 L123.4 254.34 L123.65 254.31 L123.9 254.27 L124.15 254.21 L124.4 254.13 L124.65 254.02 L124.9 253.88 L125.15 253.7 L125.4 253.49 L125.65 253.24 L125.9 252.95 L126.15 252.62 L126.4 252.26 L126.65 251.87 L126.9 251.45 L127.15 251.03 L127.4 250.6 L127.65 250.19 L127.9 249.79 L128.15 249.41 L128.4 249.07 L128.65 248.76 L128.9 248.48 L129.15 248.21 L129.4 247.95 L129.65 247.69 L129.9 247.41 L130.15 247.09 L130.4 246.73 L130.65 246.32 L130.9 245.87 L131.15 245.38 L131.4 244.89 L131.65 244.41 L131.9 243.98 L132.15 243.59 L132.4 243.26 L132.65 243.06 L132.9 242.99 L133.15 243.05 L133.4 243.22 L133.65 243.46 L133.9 243.7 L134.15 243.88 L134.4 243.91 L134.65 243.72 L134.9 243.24 L135.15 242.42 L135.4 241.24 L135.65 239.73 L135.9 237.96 L136.15 236.04 L136.4 234.11 L136.65 232.33 L136.9 230.87 L137.15 229.89 L137.4 229.48 L137.65 229.73 L137.9 230.62 L138.15 232.11 L138.4 234.1 L138.65 236.43 L138.9 238.96 L139.15 241.51 L139.4 243.93 L139.65 246.08 L139.9 247.85 L140.15 249.13 L140.4 249.84 L140.65 249.89 L140.9 249.18 L141.15 247.6 L141.4 245.02 L141.65 241.35 L141.9 236.47 L142.15 230.36 L142.4 223.03 L142.65 214.65 L142.9 205.47 L143.15 195.89 L143.4 186.41 L143.65 177.63 L143.9 170.14 L144.15 164.5 L144.4 161.14 L144.65 160.35 L144.9 162.19 L145.15 166.5 L145.4 172.95 L145.65 181.03 L145.9 190.17 L146.15 199.77 L146.4 209.26 L146.65 218.21 L146.9 226.26 L147.15 233.21 L147.4 238.99 L147.65 243.63 L147.9 247.22 L148.15 249.9 L148.4 251.85 L148.65 253.21 L148.9 254.13 L149.15 254.74 L149.4 255.13 L149.65 255.37 L149.9 255.51 L150.15 255.6 L150.4 255.65 L150.65 255.67 L150.9 255.69 L154.15 255.68 L154.4 255.66 L154.65 255.63 L154.9 255.57 L155.15 255.48 L155.4 255.35 L155.65 255.16 L155.9 254.89 L156.15 254.53 L156.4 254.07 L156.65 253.52 L156.9 252.89 L157.15 252.2 L157.4 251.51 L157.65 250.85 L157.9 250.31 L158.15 249.91 L158.4 249.72 L158.5 255.7Z" fill="#a2a2a2" stroke="none"/>
<path d="M127.25 255.63 L127.5 255.59 L127.75 255.53 L128 255.45 L128.25 255.34 L128.5 255.19 L128.75 254.98 L129 254.71 L129.25 254.37 L129.5 253.94 L129.75 253.42 L130 252.8 L130.25 252.08 L130.5 251.26 L130.75 250.37 L131 249.42 L131.25 248.44 L131.5 247.47 L131.75 246.55 L132 245.72 L132.25 245.03 L132.5 244.5 L132.75 244.17 L133 244.06 L133.25 244.17 L133.5 244.5 L133.75 245.03 L134 245.72 L134.25 246.55 L134.5 247.47 L134.75 248.44 L135 249.42 L135.25 250.37 L135.5 251.26 L135.75 252.08 L136 252.8 L136.25 253.42 L136.5 253.94 L136.75 254.37 L137 254.71 L137.25 254.98 L137.5 255.19 L137.75 255.34 L138 255.45 L138.25 255.53 L138.5 255.59 L138.75 255.63" fill="none" stroke="#262626" stroke-width="0.8"/>
<path d="M132.75 255.53 L133 255.41 L133.25 255.24 L133.5 254.97 L133.75 254.57 L134 254.01 L134.25 253.24 L134.5 252.22 L134.75 250.92 L135 249.3 L135.25 247.36 L135.5 245.14 L135.75 242.69 L136 240.12 L136.25 237.55 L136.5 235.13 L136.75 233.03 L137 231.4 L137.25 230.37 L137.5 230.01 L137.75 230.37 L138 231.4 L138.25 233.03 L138.5 235.13 L138.75 237.55 L139 240.12 L139.25 242.69 L139.5 245.14 L139.75 247.36 L140 249.3 L140.25 250.92 L140.5 252.22 L140.75 253.24 L141 254.01 L141.25 254.57 L141.5 254.97 L141.75 255.24 L142 255.41 L142.25 255.53" fill="none" stroke="#262626" stroke-width="0.8"/>
<path d="M139.85 255.07 L140.1 254.64 L140.35 253.98 L140.6 252.97 L140.85 251.51 L141.1 249.43 L141.35 246.58 L141.6 242.79 L141.85 237.93 L142.1 231.91 L142.35 224.73 L142.6 216.48 L142.85 207.4 L143.1 197.84 L143.35 188.29 L143.6 179.31 L143.85 171.51 L144.1 165.46 L144.35 161.62 L144.6 160.3 L144.85 161.62 L145.1 165.46 L145.35 171.51 L145.6 179.31 L145.85 188.29 L146.1 197.84 L146.35 207.4 L146.6 216.48 L146.85 224.73 L147.1 231.91 L147.35 237.93 L147.6 242.79 L147.85 246.58 L148.1 249.43 L148.35 251.51 L148.6 252.97 L148.85 253.98 L149.1 254.64 L149.35 255.07" fill="none" stroke="#262626" stroke-width="0.8"/>
<path d="M55.4 255.7 L95.15 255.68 L95.4 255.65 L95.65 255.62 L95.9 255.59 L96.15 255.57 L96.4 255.55 L96.65 255.52 L96.9 255.5 L97.15 255.48 L97.4 255.46 L97.65 255.43 L97.9 255.41 L98.15 255.39 L98.4 255.37 L98.65 255.34 L98.9 255.32 L99.15 255.3 L99.4 255.28 L99.65 255.26 L99.9 255.24 L100.15 255.21 L100.4 255.19 L100.65 255.17 L100.9 255.15 L101.15 255.13 L101.4 255.11 L101.65 255.08 L101.9 255.06 L102.15 255.04 L102.4 255.02 L102.65 255 L102.9 254.98 L103.15 254.96 L103.4 254.94 L103.65 254.92 L103.9 254.89 L104.15 254.87 L104.4 254.85 L104.65 254.83 L104.9 254.81 L105.15 254.79 L105.9 254.74 L106.15 254.72 L106.4 254.7 L106.65 254.68 L106.9 254.66 L107.15 254.64 L107.65 254.61 L107.9 254.59 L108.15 254.57 L108.4 254.56 L108.65 254.54 L108.9 254.53 L109.15 254.51 L110.4 254.44 L110.65 254.42 L111.15 254.39 L111.4 254.36 L111.65 254.33 L111.9 254.29 L112.15 254.23 L112.4 254.14 L112.65 254.01 L112.9 253.83 L113.15 253.6 L113.4 253.3 L113.65 252.93 L113.9 252.5 L114.15 252.03 L114.4 251.53 L114.65 251.05 L114.9 250.63 L115.15 250.3 L115.4 250.1 L115.65 250.05 L115.9 250.16 L116.15 250.4 L116.4 250.77 L116.65 251.21 L116.9 251.69 L117.15 252.18 L117.4 252.63 L117.65 253.03 L117.9 253.36 L118.15 253.63 L118.4 253.84 L118.65 253.98 L118.9 254.09 L119.15 254.16 L119.4 254.21 L119.65 254.24 L119.9 254.26 L120.15 254.28 L123.15 254.36 L123.4 254.34 L123.65 254.31 L123.9 254.27 L124.15 254.21 L124.4 254.13 L124.65 254.02 L124.9 253.88 L125.15 253.7 L125.4 253.49 L125.65 253.24 L125.9 252.95 L126.15 252.62 L126.4 252.26 L126.65 251.87 L126.9 251.45 L127.15 251.03 L127.4 250.6 L127.65 250.19 L127.9 249.79 L128.15 249.41 L128.4 249.07 L128.65 248.76 L128.9 248.48 L129.15 248.21 L129.4 247.95 L129.65 247.69 L129.9 247.41 L130.15 247.09 L130.4 246.73 L130.65 246.32 L130.9 245.87 L131.15 245.38 L131.4 244.89 L131.65 244.41 L131.9 243.98 L132.15 243.59 L132.4 243.26 L132.65 243.06 L132.9 242.99 L133.15 243.05 L133.4 243.22 L133.65 243.46 L133.9 243.7 L134.15 243.88 L134.4 243.91 L134.65 243.72 L134.9 243.24 L135.15 242.42 L135.4 241.24 L135.65 239.73 L135.9 237.96 L136.15 236.04 L136.4 234.11 L136.65 232.33 L136.9 230.87 L137.15 229.89 L137.4 229.48 L137.65 229.73 L137.9 230.62 L138.15 232.11 L138.4 234.1 L138.65 236.43 L138.9 238.96 L139.15 241.51 L139.4 243.93 L139.65 246.08 L139.9 247.85 L140.15 249.13 L140.4 249.84 L140.65 249.89 L140.9 249.18 L141.15 247.6 L141.4 245.02 L141.65 241.35 L141.9 236.47 L142.15 230.36 L142.4 223.03 L142.65 214.65 L142.9 205.47 L143.15 195.89 L143.4 186.41 L143.65 177.63 L143.9 170.14 L144.15 164.5 L144.4 161.14 L144.65 160.35 L144.9 162.19 L145.15 166.5 L145.4 172.95 L145.65 181.03 L145.9 190.17 L146.15 199.77 L146.4 209.26 L146.65 218.21 L146.9 226.26 L147.15 233.21 L147.4 238.99 L147.65 243.63 L147.9 247.22 L148.15 249.9 L148.4 251.85 L148.65 253.21 L148.9 254.13 L149.15 254.74 L149.4 255.13 L149.65 255.37 L149.9 255.51 L150.15 255.6 L150.4 255.65 L150.65 255.67 L150.9 255.69 L154.15 255.68 L154.4 255.66 L154.65 255.63 L154.9 255.57 L155.15 255.48 L155.4 255.35 L155.65 255.16 L155.9 254.89 L156.15 254.53 L156.4 254.07 L156.65 253.52 L156.9 252.89 L157.15 252.2 L157.4 251.51 L157.65 250.85 L157.9 250.31 L158.15 249.91 L158.4 249.72" fill="none" stroke="#1a1a1a" stroke-width="0.9" stroke-dasharray="2.6 0.8"/>
<path d="M122 255.19 L122.5 255.09 L123 254.98 L123.5 254.85 L124 254.69 L124.5 254.52 L125 254.32 L125.5 254.1 L126 253.84 L126.5 253.56 L127 253.24 L127.5 252.88 L128 252.48 L128.5 252.04 L129 251.56 L129.5 251.03 L130 250.46 L130.5 249.84 L131 249.17 L131.5 248.45 L132 247.69 L132.5 246.87 L133 246.02 L133.5 245.12 L134 244.19 L134.5 243.22 L135 242.22 L135.5 241.2 L136 240.16 L136.5 239.11 L137 238.06 L137.5 237.02 L138 235.99 L138.5 234.99 L139 234.02 L139.5 233.09 L140 232.22 L140.5 231.41 L141 230.67" fill="none" stroke="#555" stroke-width="0.7"/>
<path d="M148 246.42 L148.5 247.07 L149 247.76 L149.5 248.46 L150 249.17 L150.5 249.87 L151 250.54 L151.5 251.19 L152 251.79 L152.5 252.34 L153 252.85 L153.5 253.3 L154 253.7 L154.5 254.05 L155 254.36 L155.5 254.61 L156 254.83 L156.5 255.01 L157 255.16" fill="none" stroke="#555" stroke-width="0.7"/>
<rect x="55.4" y="155.6" width="103.1" height="100.1" fill="none" stroke="#3a3a3a" stroke-width="1"/>
<path d="M50.4 255.7 H158.5" stroke="#222" stroke-width="1.3"/>
<path d="M53 251.7h2.4 M53 247.69h2.4 M53 243.69h2.4 M53 239.68h2.4 M50.4 235.68h5 M53 231.68h2.4 M53 227.67h2.4 M53 223.67h2.4 M53 219.66h2.4 M50.4 215.66h5 M53 211.66h2.4 M53 207.65h2.4 M53 203.65h2.4 M53 199.64h2.4 M50.4 195.64h5 M53 191.64h2.4 M53 187.63h2.4 M53 183.63h2.4 M53 179.62h2.4 M50.4 175.62h5 M53 171.62h2.4 M53 167.61h2.4 M53 163.61h2.4 M53 159.6h2.4 M50.4 155.6h5" stroke="#3a3a3a" stroke-width="0.9" fill="none"/>
<text x="47.9" y="238.38" text-anchor="end" font-size="7.6" fill="#222" stroke="#222" stroke-width="0.2">20</text>
<text x="47.9" y="218.36" text-anchor="end" font-size="7.6" fill="#222" stroke="#222" stroke-width="0.2">40</text>
<text x="47.9" y="198.34" text-anchor="end" font-size="7.6" fill="#222" stroke="#222" stroke-width="0.2">60</text>
<text x="47.9" y="178.32" text-anchor="end" font-size="7.6" fill="#222" stroke="#222" stroke-width="0.2">80</text>
<text x="47.9" y="158.3" text-anchor="end" font-size="7.6" fill="#222" stroke="#222" stroke-width="0.2">100</text>
<path d="M58.33 255.7v2.2 M60.12 255.7v2.2 M61.59 255.7v2.2 M62.84 255.7v2.2 M63.91 255.7v2.2 M64.86 255.7v2.2 M65.71 255.7v4.2 M71.3 255.7v2.2 M74.56 255.7v2.2 M76.88 255.7v2.2 M78.68 255.7v2.2 M80.15 255.7v2.2 M81.39 255.7v2.2 M82.47 255.7v2.2 M83.42 255.7v2.2 M84.27 255.7v4.2 M89.85 255.7v2.2 M93.12 255.7v2.2 M95.44 255.7v2.2 M97.24 255.7v2.2 M98.71 255.7v2.2 M99.95 255.7v2.2 M101.03 255.7v2.2 M101.98 255.7v2.2 M102.83 255.7v4.2 M108.41 255.7v2.2 M111.68 255.7v2.2 M114 255.7v2.2 M115.8 255.7v2.2 M117.27 255.7v2.2 M118.51 255.7v2.2 M119.59 255.7v2.2 M120.53 255.7v2.2 M121.38 255.7v4.2 M126.97 255.7v2.2 M130.24 255.7v2.2 M132.56 255.7v2.2 M134.36 255.7v2.2 M135.82 255.7v2.2 M137.07 255.7v2.2 M138.14 255.7v2.2 M139.09 255.7v2.2 M139.94 255.7v4.2 M145.53 255.7v2.2 M148.8 255.7v2.2 M151.12 255.7v2.2 M152.91 255.7v2.2 M154.38 255.7v2.2 M155.63 255.7v2.2 M156.7 255.7v2.2 M157.65 255.7v2.2" stroke="#3a3a3a" stroke-width="0.8" fill="none"/>
<text x="61.51" y="277.4" font-size="8" fill="#222" stroke="#222" stroke-width="0.2">10<tspan dy="-5.6" dx="0.3" font-size="7.6">1</tspan></text>
<text x="80.07" y="277.4" font-size="8" fill="#222" stroke="#222" stroke-width="0.2">10<tspan dy="-5.6" dx="0.3" font-size="7.6">2</tspan></text>
<text x="98.63" y="277.4" font-size="8" fill="#222" stroke="#222" stroke-width="0.2">10<tspan dy="-5.6" dx="0.3" font-size="7.6">3</tspan></text>
<text x="117.18" y="277.4" font-size="8" fill="#222" stroke="#222" stroke-width="0.2">10<tspan dy="-5.6" dx="0.3" font-size="7.6">4</tspan></text>
<text x="135.74" y="277.4" font-size="8" fill="#222" stroke="#222" stroke-width="0.2">10<tspan dy="-5.6" dx="0.3" font-size="7.6">5</tspan></text>
<text transform="translate(63.3 176) scale(1.13 1)" font-size="19" font-weight="bold" fill="#000">3 µM</text>
<path d="M186 255.9 L186 255.9 L228 255.9 L228.25 255.86 L228.5 255.83 L228.75 255.8 L229 255.78 L229.25 255.75 L229.5 255.72 L229.75 255.7 L230 255.68 L230.25 255.65 L230.5 255.63 L230.75 255.6 L231 255.58 L231.25 255.55 L231.5 255.53 L231.75 255.51 L232 255.48 L232.25 255.46 L232.5 255.44 L232.75 255.41 L233 255.39 L233.25 255.36 L233.5 255.34 L233.75 255.32 L234 255.29 L234.25 255.27 L234.5 255.25 L234.75 255.22 L235 255.2 L235.25 255.18 L235.5 255.16 L235.75 255.13 L236 255.11 L236.25 255.09 L236.5 255.07 L236.75 255.04 L237 255.02 L237.25 255 L237.5 254.98 L237.75 254.96 L238 254.94 L238.25 254.92 L238.5 254.9 L238.75 254.88 L239 254.86 L239.25 254.84 L239.5 254.82 L239.75 254.8 L240 254.78 L240.25 254.76 L241 254.71 L241.25 254.69 L241.5 254.68 L241.75 254.66 L242 254.65 L242.25 254.63 L242.5 254.62 L242.75 254.6 L243.25 254.58 L243.5 254.56 L244.25 254.53 L244.5 254.51 L244.75 254.5 L245 254.48 L245.25 254.46 L245.5 254.43 L245.75 254.38 L246 254.31 L246.25 254.2 L246.5 254.05 L246.75 253.84 L247 253.56 L247.25 253.2 L247.5 252.76 L247.75 252.25 L248 251.7 L248.25 251.13 L248.5 250.58 L248.75 250.12 L249 249.77 L249.25 249.58 L249.5 249.56 L249.75 249.73 L250 250.05 L250.25 250.51 L250.5 251.04 L250.75 251.62 L251 252.19 L251.25 252.71 L251.5 253.17 L251.75 253.56 L252 253.86 L252.25 254.09 L252.5 254.26 L252.75 254.39 L253 254.47 L253.25 254.53 L253.5 254.58 L253.75 254.61 L254 254.63 L254.25 254.65 L254.5 254.66 L254.75 254.68 L255.25 254.68 L255.5 254.66 L255.75 254.64 L256 254.59 L256.25 254.51 L256.5 254.41 L256.75 254.27 L257 254.09 L257.25 253.85 L257.5 253.57 L257.75 253.23 L258 252.84 L258.25 252.41 L258.5 251.94 L258.75 251.45 L259 250.95 L259.25 250.48 L259.5 250.04 L259.75 249.67 L260 249.38 L260.25 249.2 L260.5 249.12 L260.75 249.16 L261 249.3 L261.25 249.54 L261.5 249.86 L261.75 250.22 L262 250.62 L262.25 250.89 L262.5 251.09 L262.75 251.19 L263 251.16 L263.25 250.97 L263.5 250.61 L263.75 250.09 L264 249.4 L264.25 248.59 L264.5 247.68 L264.75 246.72 L265 245.78 L265.25 244.91 L265.5 244.15 L265.75 243.57 L266 243.17 L266.25 242.98 L266.5 242.96 L266.75 243.09 L267 243.29 L267.25 243.48 L267.5 243.56 L267.75 243.45 L268 243.05 L268.25 242.33 L268.5 241.29 L268.75 239.95 L269 238.43 L269.25 236.85 L269.5 235.38 L269.75 234.2 L270 233.45 L270.25 233.26 L270.5 233.69 L270.75 234.73 L271 236.3 L271.25 238.28 L271.5 240.52 L271.75 242.83 L272 245.04 L272.25 246.99 L272.5 248.55 L272.75 249.61 L273 250.06 L273.25 249.81 L273.5 248.77 L273.75 246.84 L274 243.92 L274.25 239.91 L274.5 234.75 L274.75 228.43 L275 221.02 L275.25 212.67 L275.5 203.65 L275.75 194.36 L276 185.27 L276.25 176.92 L276.5 169.84 L276.75 164.53 L277 161.39 L277.25 160.65 L277.5 162.37 L277.75 166.41 L278 172.48 L278.25 180.14 L278.5 188.86 L278.75 198.1 L279 207.34 L279.25 216.16 L279.5 224.21 L279.75 231.28 L280 237.26 L280.25 242.15 L280.5 246.02 L280.75 248.98 L281 251.18 L281.25 252.76 L281.5 253.87 L281.75 254.62 L282 255.11 L282.25 255.43 L282.5 255.62 L282.75 255.74 L283 255.81 L283.25 255.85 L283.5 255.88 L286.5 255.87 L286.75 255.85 L287 255.81 L287.25 255.74 L287.5 255.63 L287.75 255.46 L288 255.2 L288.25 254.83 L288.5 254.33 L288.75 253.66 L289 252.84 L289.25 251.86 L289.5 250.76 L289.75 249.6 L290 248.46 L290.25 247.43 L290.5 246.61 L290.75 246.08 L291 245.9 L291 255.9Z" fill="#a2a2a2" stroke="none"/>
<path d="M254.85 255.86 L255.1 255.84 L255.35 255.81 L255.6 255.77 L255.85 255.7 L256.1 255.62 L256.35 255.51 L256.6 255.36 L256.85 255.18 L257.1 254.94 L257.35 254.66 L257.6 254.32 L257.85 253.92 L258.1 253.48 L258.35 253 L258.6 252.48 L258.85 251.94 L259.1 251.42 L259.35 250.91 L259.6 250.46 L259.85 250.08 L260.1 249.8 L260.35 249.62 L260.6 249.56 L260.85 249.62 L261.1 249.8 L261.35 250.08 L261.6 250.46 L261.85 250.91 L262.1 251.42 L262.35 251.94 L262.6 252.48 L262.85 253 L263.1 253.48 L263.35 253.92 L263.6 254.32 L263.85 254.66 L264.1 254.94 L264.35 255.18 L264.6 255.36 L264.85 255.51 L265.1 255.62 L265.35 255.7 L265.6 255.77 L265.85 255.81 L266.1 255.84 L266.35 255.86" fill="none" stroke="#262626" stroke-width="0.8"/>
<path d="M260.95 255.79 L261.2 255.73 L261.45 255.65 L261.7 255.52 L261.95 255.35 L262.2 255.11 L262.45 254.8 L262.7 254.39 L262.95 253.88 L263.2 253.26 L263.45 252.51 L263.7 251.64 L263.95 250.67 L264.2 249.62 L264.45 248.51 L264.7 247.4 L264.95 246.32 L265.2 245.34 L265.45 244.51 L265.7 243.88 L265.95 243.49 L266.2 243.35 L266.45 243.49 L266.7 243.88 L266.95 244.51 L267.2 245.34 L267.45 246.32 L267.7 247.4 L267.95 248.51 L268.2 249.62 L268.45 250.67 L268.7 251.64 L268.95 252.51 L269.2 253.26 L269.45 253.88 L269.7 254.39 L269.95 254.8 L270.2 255.11 L270.45 255.35 L270.7 255.52 L270.95 255.65 L271.2 255.73 L271.45 255.79" fill="none" stroke="#262626" stroke-width="0.8"/>
<path d="M266.05 255.68 L266.3 255.53 L266.55 255.29 L266.8 254.94 L267.05 254.42 L267.3 253.69 L267.55 252.72 L267.8 251.45 L268.05 249.88 L268.3 248 L268.55 245.87 L268.8 243.56 L269.05 241.19 L269.3 238.92 L269.55 236.92 L269.8 235.34 L270.05 234.34 L270.3 233.99 L270.55 234.34 L270.8 235.34 L271.05 236.92 L271.3 238.92 L271.55 241.19 L271.8 243.56 L272.05 245.87 L272.3 248 L272.55 249.88 L272.8 251.45 L273.05 252.72 L273.3 253.69 L273.55 254.42 L273.8 254.94 L274.05 255.29 L274.3 255.53 L274.55 255.68" fill="none" stroke="#262626" stroke-width="0.8"/>
<path d="M272.45 255.03 L272.7 254.49 L272.95 253.68 L273.2 252.49 L273.45 250.79 L273.7 248.45 L273.95 245.32 L274.2 241.26 L274.45 236.15 L274.7 229.95 L274.95 222.67 L275.2 214.45 L275.45 205.52 L275.7 196.23 L275.95 187.06 L276.2 178.51 L276.45 171.13 L276.7 165.43 L276.95 161.83 L277.2 160.6 L277.45 161.83 L277.7 165.43 L277.95 171.13 L278.2 178.51 L278.45 187.06 L278.7 196.23 L278.95 205.52 L279.2 214.45 L279.45 222.67 L279.7 229.95 L279.95 236.15 L280.2 241.26 L280.45 245.32 L280.7 248.45 L280.95 250.79 L281.2 252.49 L281.45 253.68 L281.7 254.49 L281.95 255.03" fill="none" stroke="#262626" stroke-width="0.8"/>
<path d="M186 255.9 L228 255.9 L228.25 255.86 L228.5 255.83 L228.75 255.8 L229 255.78 L229.25 255.75 L229.5 255.72 L229.75 255.7 L230 255.68 L230.25 255.65 L230.5 255.63 L230.75 255.6 L231 255.58 L231.25 255.55 L231.5 255.53 L231.75 255.51 L232 255.48 L232.25 255.46 L232.5 255.44 L232.75 255.41 L233 255.39 L233.25 255.36 L233.5 255.34 L233.75 255.32 L234 255.29 L234.25 255.27 L234.5 255.25 L234.75 255.22 L235 255.2 L235.25 255.18 L235.5 255.16 L235.75 255.13 L236 255.11 L236.25 255.09 L236.5 255.07 L236.75 255.04 L237 255.02 L237.25 255 L237.5 254.98 L237.75 254.96 L238 254.94 L238.25 254.92 L238.5 254.9 L238.75 254.88 L239 254.86 L239.25 254.84 L239.5 254.82 L239.75 254.8 L240 254.78 L240.25 254.76 L241 254.71 L241.25 254.69 L241.5 254.68 L241.75 254.66 L242 254.65 L242.25 254.63 L242.5 254.62 L242.75 254.6 L243.25 254.58 L243.5 254.56 L244.25 254.53 L244.5 254.51 L244.75 254.5 L245 254.48 L245.25 254.46 L245.5 254.43 L245.75 254.38 L246 254.31 L246.25 254.2 L246.5 254.05 L246.75 253.84 L247 253.56 L247.25 253.2 L247.5 252.76 L247.75 252.25 L248 251.7 L248.25 251.13 L248.5 250.58 L248.75 250.12 L249 249.77 L249.25 249.58 L249.5 249.56 L249.75 249.73 L250 250.05 L250.25 250.51 L250.5 251.04 L250.75 251.62 L251 252.19 L251.25 252.71 L251.5 253.17 L251.75 253.56 L252 253.86 L252.25 254.09 L252.5 254.26 L252.75 254.39 L253 254.47 L253.25 254.53 L253.5 254.58 L253.75 254.61 L254 254.63 L254.25 254.65 L254.5 254.66 L254.75 254.68 L255.25 254.68 L255.5 254.66 L255.75 254.64 L256 254.59 L256.25 254.51 L256.5 254.41 L256.75 254.27 L257 254.09 L257.25 253.85 L257.5 253.57 L257.75 253.23 L258 252.84 L258.25 252.41 L258.5 251.94 L258.75 251.45 L259 250.95 L259.25 250.48 L259.5 250.04 L259.75 249.67 L260 249.38 L260.25 249.2 L260.5 249.12 L260.75 249.16 L261 249.3 L261.25 249.54 L261.5 249.86 L261.75 250.22 L262 250.62 L262.25 250.89 L262.5 251.09 L262.75 251.19 L263 251.16 L263.25 250.97 L263.5 250.61 L263.75 250.09 L264 249.4 L264.25 248.59 L264.5 247.68 L264.75 246.72 L265 245.78 L265.25 244.91 L265.5 244.15 L265.75 243.57 L266 243.17 L266.25 242.98 L266.5 242.96 L266.75 243.09 L267 243.29 L267.25 243.48 L267.5 243.56 L267.75 243.45 L268 243.05 L268.25 242.33 L268.5 241.29 L268.75 239.95 L269 238.43 L269.25 236.85 L269.5 235.38 L269.75 234.2 L270 233.45 L270.25 233.26 L270.5 233.69 L270.75 234.73 L271 236.3 L271.25 238.28 L271.5 240.52 L271.75 242.83 L272 245.04 L272.25 246.99 L272.5 248.55 L272.75 249.61 L273 250.06 L273.25 249.81 L273.5 248.77 L273.75 246.84 L274 243.92 L274.25 239.91 L274.5 234.75 L274.75 228.43 L275 221.02 L275.25 212.67 L275.5 203.65 L275.75 194.36 L276 185.27 L276.25 176.92 L276.5 169.84 L276.75 164.53 L277 161.39 L277.25 160.65 L277.5 162.37 L277.75 166.41 L278 172.48 L278.25 180.14 L278.5 188.86 L278.75 198.1 L279 207.34 L279.25 216.16 L279.5 224.21 L279.75 231.28 L280 237.26 L280.25 242.15 L280.5 246.02 L280.75 248.98 L281 251.18 L281.25 252.76 L281.5 253.87 L281.75 254.62 L282 255.11 L282.25 255.43 L282.5 255.62 L282.75 255.74 L283 255.81 L283.25 255.85 L283.5 255.88 L286.5 255.87 L286.75 255.85 L287 255.81 L287.25 255.74 L287.5 255.63 L287.75 255.46 L288 255.2 L288.25 254.83 L288.5 254.33 L288.75 253.66 L289 252.84 L289.25 251.86 L289.5 250.76 L289.75 249.6 L290 248.46 L290.25 247.43 L290.5 246.61 L290.75 246.08 L291 245.9" fill="none" stroke="#1a1a1a" stroke-width="0.9" stroke-dasharray="2.6 0.8"/>
<path d="M254 255.53 L254.5 255.46 L255 255.37 L255.5 255.27 L256 255.16 L256.5 255.02 L257 254.87 L257.5 254.7 L258 254.5 L258.5 254.28 L259 254.03 L259.5 253.75 L260 253.43 L260.5 253.08 L261 252.7 L261.5 252.27 L262 251.8 L262.5 251.3 L263 250.75 L263.5 250.15 L264 249.52 L264.5 248.84 L265 248.12 L265.5 247.35 L266 246.55 L266.5 245.72 L267 244.85 L267.5 243.96 L268 243.05 L268.5 242.12 L269 241.17 L269.5 240.23 L270 239.29 L270.5 238.37 L271 237.46 L271.5 236.58 L272 235.74 L272.5 234.95 L273 234.21 L273.5 233.53" fill="none" stroke="#555" stroke-width="0.7"/>
<path d="M281 246.98 L281.5 247.68 L282 248.39 L282.5 249.11 L283 249.83 L283.5 250.52 L284 251.18 L284.5 251.8 L285 252.38 L285.5 252.9 L286 253.37 L286.5 253.79 L287 254.16 L287.5 254.47 L288 254.75 L288.5 254.97 L289 255.17 L289.5 255.32" fill="none" stroke="#555" stroke-width="0.7"/>
<rect x="186" y="156.2" width="105" height="99.7" fill="none" stroke="#3a3a3a" stroke-width="1"/>
<path d="M181 255.9 H291" stroke="#222" stroke-width="1.3"/>
<path d="M183.6 251.91h2.4 M183.6 247.92h2.4 M183.6 243.94h2.4 M183.6 239.95h2.4 M181 235.96h5 M183.6 231.97h2.4 M183.6 227.98h2.4 M183.6 224h2.4 M183.6 220.01h2.4 M181 216.02h5 M183.6 212.03h2.4 M183.6 208.04h2.4 M183.6 204.06h2.4 M183.6 200.07h2.4 M181 196.08h5 M183.6 192.09h2.4 M183.6 188.1h2.4 M183.6 184.12h2.4 M183.6 180.13h2.4 M181 176.14h5 M183.6 172.15h2.4 M183.6 168.16h2.4 M183.6 164.18h2.4 M183.6 160.19h2.4 M181 156.2h5" stroke="#3a3a3a" stroke-width="0.9" fill="none"/>
<text x="178.5" y="238.66" text-anchor="end" font-size="7.6" fill="#222" stroke="#222" stroke-width="0.2">20</text>
<text x="178.5" y="218.72" text-anchor="end" font-size="7.6" fill="#222" stroke="#222" stroke-width="0.2">40</text>
<text x="178.5" y="198.78" text-anchor="end" font-size="7.6" fill="#222" stroke="#222" stroke-width="0.2">60</text>
<text x="178.5" y="178.84" text-anchor="end" font-size="7.6" fill="#222" stroke="#222" stroke-width="0.2">80</text>
<text x="178.5" y="158.9" text-anchor="end" font-size="7.6" fill="#222" stroke="#222" stroke-width="0.2">100</text>
<path d="M188.98 255.9v2.2 M190.81 255.9v2.2 M192.31 255.9v2.2 M193.57 255.9v2.2 M194.67 255.9v2.2 M195.64 255.9v2.2 M196.5 255.9v4.2 M202.19 255.9v2.2 M205.52 255.9v2.2 M207.88 255.9v2.2 M209.71 255.9v2.2 M211.21 255.9v2.2 M212.47 255.9v2.2 M213.57 255.9v2.2 M214.54 255.9v2.2 M215.4 255.9v4.2 M221.09 255.9v2.2 M224.42 255.9v2.2 M226.78 255.9v2.2 M228.61 255.9v2.2 M230.11 255.9v2.2 M231.37 255.9v2.2 M232.47 255.9v2.2 M233.44 255.9v2.2 M234.3 255.9v4.2 M239.99 255.9v2.2 M243.32 255.9v2.2 M245.68 255.9v2.2 M247.51 255.9v2.2 M249.01 255.9v2.2 M250.27 255.9v2.2 M251.37 255.9v2.2 M252.34 255.9v2.2 M253.2 255.9v4.2 M258.89 255.9v2.2 M262.22 255.9v2.2 M264.58 255.9v2.2 M266.41 255.9v2.2 M267.91 255.9v2.2 M269.17 255.9v2.2 M270.27 255.9v2.2 M271.24 255.9v2.2 M272.1 255.9v4.2 M277.79 255.9v2.2 M281.12 255.9v2.2 M283.48 255.9v2.2 M285.31 255.9v2.2 M286.81 255.9v2.2 M288.07 255.9v2.2 M289.17 255.9v2.2 M290.14 255.9v2.2" stroke="#3a3a3a" stroke-width="0.8" fill="none"/>
<text x="192.3" y="277.6" font-size="8" fill="#222" stroke="#222" stroke-width="0.2">10<tspan dy="-5.6" dx="0.3" font-size="7.6">1</tspan></text>
<text x="211.2" y="277.6" font-size="8" fill="#222" stroke="#222" stroke-width="0.2">10<tspan dy="-5.6" dx="0.3" font-size="7.6">2</tspan></text>
<text x="230.1" y="277.6" font-size="8" fill="#222" stroke="#222" stroke-width="0.2">10<tspan dy="-5.6" dx="0.3" font-size="7.6">3</tspan></text>
<text x="249" y="277.6" font-size="8" fill="#222" stroke="#222" stroke-width="0.2">10<tspan dy="-5.6" dx="0.3" font-size="7.6">4</tspan></text>
<text x="267.9" y="277.6" font-size="8" fill="#222" stroke="#222" stroke-width="0.2">10<tspan dy="-5.6" dx="0.3" font-size="7.6">5</tspan></text>
<text transform="translate(191.5 176) scale(1.13 1)" font-size="19" font-weight="bold" fill="#000">10 µM</text>
<path d="M315.4 257.3 L315.4 257.3 L357.9 257.3 L358.15 257.27 L358.4 257.24 L358.65 257.21 L358.9 257.19 L359.15 257.16 L359.4 257.13 L359.65 257.11 L359.9 257.09 L360.15 257.06 L360.4 257.04 L360.65 257.01 L360.9 256.99 L361.15 256.96 L361.65 256.92 L361.9 256.89 L362.4 256.85 L362.65 256.82 L362.9 256.8 L363.15 256.77 L363.65 256.73 L363.9 256.7 L364.4 256.66 L364.65 256.63 L364.9 256.61 L365.15 256.59 L365.4 256.57 L365.65 256.54 L365.9 256.52 L366.4 256.48 L366.65 256.45 L367.15 256.41 L367.4 256.39 L367.9 256.35 L368.15 256.33 L368.4 256.3 L368.65 256.28 L369.4 256.23 L369.65 256.21 L370.15 256.17 L370.4 256.15 L371.15 256.1 L371.4 256.08 L372.15 256.04 L372.4 256.02 L373.65 255.96 L373.9 255.94 L374.65 255.9 L374.9 255.88 L375.15 255.85 L375.4 255.82 L375.65 255.76 L375.9 255.68 L376.15 255.57 L376.4 255.41 L376.65 255.21 L376.9 254.96 L377.15 254.65 L377.4 254.3 L377.65 253.92 L377.9 253.53 L378.15 253.17 L378.4 252.87 L378.65 252.66 L378.9 252.55 L379.15 252.57 L379.4 252.7 L379.65 252.94 L379.9 253.26 L380.15 253.63 L380.4 254.02 L380.65 254.4 L380.9 254.75 L381.15 255.05 L381.4 255.3 L381.65 255.5 L381.9 255.64 L382.15 255.75 L382.4 255.83 L382.65 255.89 L382.9 255.93 L383.15 255.95 L383.4 255.97 L384.65 255.96 L384.9 255.92 L385.15 255.87 L385.4 255.8 L385.65 255.71 L385.9 255.59 L386.15 255.44 L386.4 255.25 L386.65 255.03 L386.9 254.78 L387.15 254.49 L387.4 254.17 L387.65 253.84 L387.9 253.48 L388.15 253.13 L388.4 252.78 L388.65 252.45 L388.9 252.15 L389.15 251.9 L389.4 251.71 L389.65 251.58 L389.9 251.51 L390.15 251.51 L390.4 251.55 L390.65 251.64 L390.9 251.75 L391.15 251.86 L391.4 251.95 L391.65 251.98 L391.9 251.94 L392.15 251.77 L392.4 251.42 L392.65 250.95 L392.9 250.36 L393.15 249.66 L393.4 248.89 L393.65 248.08 L393.9 247.28 L394.15 246.55 L394.4 245.94 L394.65 245.49 L394.9 245.24 L395.15 245.21 L395.4 245.4 L395.65 245.8 L395.9 246.36 L396.15 247.03 L396.4 247.73 L396.65 248.38 L396.9 248.88 L397.15 249.14 L397.4 249.08 L397.65 248.63 L397.9 247.74 L398.15 246.41 L398.4 244.66 L398.65 242.57 L398.9 240.28 L399.15 237.93 L399.4 235.72 L399.65 233.84 L399.9 232.45 L400.15 231.71 L400.4 231.67 L400.65 232.37 L400.9 233.72 L401.15 235.62 L401.4 237.89 L401.65 240.33 L401.9 242.74 L402.15 244.91 L402.4 246.64 L402.65 247.77 L402.9 248.15 L403.15 247.63 L403.4 246.09 L403.65 243.43 L403.9 239.55 L404.15 234.42 L404.4 228.06 L404.65 220.56 L404.9 212.13 L405.15 203.07 L405.4 193.8 L405.65 184.83 L405.9 176.69 L406.15 169.92 L406.4 165.02 L406.65 162.35 L406.9 162.1 L407.15 164.3 L407.4 168.79 L407.65 175.22 L407.9 183.14 L408.15 192.01 L408.4 201.3 L408.65 210.5 L408.9 219.2 L409.15 227.07 L409.4 233.94 L409.65 239.7 L409.9 244.39 L410.15 248.07 L410.4 250.87 L410.65 252.94 L410.9 254.41 L411.15 255.44 L411.4 256.13 L411.65 256.59 L411.9 256.87 L412.15 257.05 L412.4 257.16 L412.65 257.22 L412.9 257.26 L416.65 257.26 L416.9 257.22 L417.15 257.16 L417.4 257.07 L417.65 256.93 L417.9 256.72 L418.15 256.42 L418.4 256.03 L418.65 255.52 L418.9 254.89 L419.15 254.17 L419.4 253.38 L419.65 252.57 L419.9 251.79 L420.15 251.12 L420.4 250.62 L420.65 250.35 L420.8 257.3Z" fill="#a2a2a2" stroke="none"/>
<path d="M389.85 257.2 L390.1 257.14 L390.35 257.06 L390.6 256.94 L390.85 256.78 L391.1 256.56 L391.35 256.26 L391.6 255.88 L391.85 255.39 L392.1 254.8 L392.35 254.1 L392.6 253.28 L392.85 252.36 L393.1 251.36 L393.35 250.32 L393.6 249.27 L393.85 248.25 L394.1 247.33 L394.35 246.54 L394.6 245.94 L394.85 245.57 L395.1 245.44 L395.35 245.57 L395.6 245.94 L395.85 246.54 L396.1 247.33 L396.35 248.25 L396.6 249.27 L396.85 250.32 L397.1 251.36 L397.35 252.36 L397.6 253.28 L397.85 254.1 L398.1 254.8 L398.35 255.39 L398.6 255.88 L398.85 256.26 L399.1 256.56 L399.35 256.78 L399.6 256.94 L399.85 257.06 L400.1 257.14 L400.35 257.2" fill="none" stroke="#262626" stroke-width="0.8"/>
<path d="M395.8 257.09 L396.05 256.95 L396.3 256.73 L396.55 256.4 L396.8 255.91 L397.05 255.23 L397.3 254.29 L397.55 253.07 L397.8 251.51 L398.05 249.63 L398.3 247.42 L398.55 244.95 L398.8 242.32 L399.05 239.66 L399.3 237.14 L399.55 234.93 L399.8 233.2 L400.05 232.1 L400.3 231.72 L400.55 232.1 L400.8 233.2 L401.05 234.93 L401.3 237.14 L401.55 239.66 L401.8 242.32 L402.05 244.95 L402.3 247.42 L402.55 249.63 L402.8 251.51 L403.05 253.07 L403.3 254.29 L403.55 255.23 L403.8 255.91 L404.05 256.4 L404.3 256.73 L404.55 256.95 L404.8 257.09" fill="none" stroke="#262626" stroke-width="0.8"/>
<path d="M402.05 256.43 L402.3 255.89 L402.55 255.08 L402.8 253.88 L403.05 252.19 L403.3 249.85 L403.55 246.71 L403.8 242.64 L404.05 237.53 L404.3 231.32 L404.55 224.04 L404.8 215.8 L405.05 206.86 L405.3 197.57 L405.55 188.38 L405.8 179.83 L406.05 172.44 L406.3 166.74 L406.55 163.13 L406.8 161.9 L407.05 163.13 L407.3 166.74 L407.55 172.44 L407.8 179.83 L408.05 188.38 L408.3 197.57 L408.55 206.86 L408.8 215.8 L409.05 224.04 L409.3 231.32 L409.55 237.53 L409.8 242.64 L410.05 246.71 L410.3 249.85 L410.55 252.19 L410.8 253.88 L411.05 255.08 L411.3 255.89 L411.55 256.43" fill="none" stroke="#262626" stroke-width="0.8"/>
<path d="M315.4 257.3 L357.9 257.3 L358.15 257.27 L358.4 257.24 L358.65 257.21 L358.9 257.19 L359.15 257.16 L359.4 257.13 L359.65 257.11 L359.9 257.09 L360.15 257.06 L360.4 257.04 L360.65 257.01 L360.9 256.99 L361.15 256.96 L361.65 256.92 L361.9 256.89 L362.4 256.85 L362.65 256.82 L362.9 256.8 L363.15 256.77 L363.65 256.73 L363.9 256.7 L364.4 256.66 L364.65 256.63 L364.9 256.61 L365.15 256.59 L365.4 256.57 L365.65 256.54 L365.9 256.52 L366.4 256.48 L366.65 256.45 L367.15 256.41 L367.4 256.39 L367.9 256.35 L368.15 256.33 L368.4 256.3 L368.65 256.28 L369.4 256.23 L369.65 256.21 L370.15 256.17 L370.4 256.15 L371.15 256.1 L371.4 256.08 L372.15 256.04 L372.4 256.02 L373.65 255.96 L373.9 255.94 L374.65 255.9 L374.9 255.88 L375.15 255.85 L375.4 255.82 L375.65 255.76 L375.9 255.68 L376.15 255.57 L376.4 255.41 L376.65 255.21 L376.9 254.96 L377.15 254.65 L377.4 254.3 L377.65 253.92 L377.9 253.53 L378.15 253.17 L378.4 252.87 L378.65 252.66 L378.9 252.55 L379.15 252.57 L379.4 252.7 L379.65 252.94 L379.9 253.26 L380.15 253.63 L380.4 254.02 L380.65 254.4 L380.9 254.75 L381.15 255.05 L381.4 255.3 L381.65 255.5 L381.9 255.64 L382.15 255.75 L382.4 255.83 L382.65 255.89 L382.9 255.93 L383.15 255.95 L383.4 255.97 L384.65 255.96 L384.9 255.92 L385.15 255.87 L385.4 255.8 L385.65 255.71 L385.9 255.59 L386.15 255.44 L386.4 255.25 L386.65 255.03 L386.9 254.78 L387.15 254.49 L387.4 254.17 L387.65 253.84 L387.9 253.48 L388.15 253.13 L388.4 252.78 L388.65 252.45 L388.9 252.15 L389.15 251.9 L389.4 251.71 L389.65 251.58 L389.9 251.51 L390.15 251.51 L390.4 251.55 L390.65 251.64 L390.9 251.75 L391.15 251.86 L391.4 251.95 L391.65 251.98 L391.9 251.94 L392.15 251.77 L392.4 251.42 L392.65 250.95 L392.9 250.36 L393.15 249.66 L393.4 248.89 L393.65 248.08 L393.9 247.28 L394.15 246.55 L394.4 245.94 L394.65 245.49 L394.9 245.24 L395.15 245.21 L395.4 245.4 L395.65 245.8 L395.9 246.36 L396.15 247.03 L396.4 247.73 L396.65 248.38 L396.9 248.88 L397.15 249.14 L397.4 249.08 L397.65 248.63 L397.9 247.74 L398.15 246.41 L398.4 244.66 L398.65 242.57 L398.9 240.28 L399.15 237.93 L399.4 235.72 L399.65 233.84 L399.9 232.45 L400.15 231.71 L400.4 231.67 L400.65 232.37 L400.9 233.72 L401.15 235.62 L401.4 237.89 L401.65 240.33 L401.9 242.74 L402.15 244.91 L402.4 246.64 L402.65 247.77 L402.9 248.15 L403.15 247.63 L403.4 246.09 L403.65 243.43 L403.9 239.55 L404.15 234.42 L404.4 228.06 L404.65 220.56 L404.9 212.13 L405.15 203.07 L405.4 193.8 L405.65 184.83 L405.9 176.69 L406.15 169.92 L406.4 165.02 L406.65 162.35 L406.9 162.1 L407.15 164.3 L407.4 168.79 L407.65 175.22 L407.9 183.14 L408.15 192.01 L408.4 201.3 L408.65 210.5 L408.9 219.2 L409.15 227.07 L409.4 233.94 L409.65 239.7 L409.9 244.39 L410.15 248.07 L410.4 250.87 L410.65 252.94 L410.9 254.41 L411.15 255.44 L411.4 256.13 L411.65 256.59 L411.9 256.87 L412.15 257.05 L412.4 257.16 L412.65 257.22 L412.9 257.26 L416.65 257.26 L416.9 257.22 L417.15 257.16 L417.4 257.07 L417.65 256.93 L417.9 256.72 L418.15 256.42 L418.4 256.03 L418.65 255.52 L418.9 254.89 L419.15 254.17 L419.4 253.38 L419.65 252.57 L419.9 251.79 L420.15 251.12 L420.4 250.62 L420.65 250.35" fill="none" stroke="#1a1a1a" stroke-width="0.9" stroke-dasharray="2.6 0.8"/>
<path d="M384 256.83 L384.5 256.74 L385 256.63 L385.5 256.51 L386 256.37 L386.5 256.21 L387 256.02 L387.5 255.81 L388 255.57 L388.5 255.31 L389 255 L389.5 254.67 L390 254.29 L390.5 253.87 L391 253.42 L391.5 252.92 L392 252.37 L392.5 251.77 L393 251.13 L393.5 250.45 L394 249.71 L394.5 248.93 L395 248.1 L395.5 247.23 L396 246.32 L396.5 245.38 L397 244.41 L397.5 243.41 L398 242.39 L398.5 241.36 L399 240.33 L399.5 239.3 L400 238.28 L400.5 237.28 L401 236.31 L401.5 235.38 L402 234.5 L402.5 233.67 L403 232.91 L403.5 232.23" fill="none" stroke="#555" stroke-width="0.7"/>
<path d="M411 249.36 L411.5 250.04 L412 250.72 L412.5 251.4 L413 252.06 L413.5 252.7 L414 253.29 L414.5 253.85 L415 254.36 L415.5 254.81 L416 255.22 L416.5 255.58 L417 255.89 L417.5 256.16 L418 256.38 L418.5 256.57 L419 256.72 L419.5 256.85" fill="none" stroke="#555" stroke-width="0.7"/>
<rect x="315.4" y="157.2" width="105.4" height="100.1" fill="none" stroke="#3a3a3a" stroke-width="1"/>
<path d="M310.4 257.3 H420.8" stroke="#222" stroke-width="1.3"/>
<path d="M313 253.3h2.4 M313 249.29h2.4 M313 245.29h2.4 M313 241.28h2.4 M310.4 237.28h5 M313 233.28h2.4 M313 229.27h2.4 M313 225.27h2.4 M313 221.26h2.4 M310.4 217.26h5 M313 213.26h2.4 M313 209.25h2.4 M313 205.25h2.4 M313 201.24h2.4 M310.4 197.24h5 M313 193.24h2.4 M313 189.23h2.4 M313 185.23h2.4 M313 181.22h2.4 M310.4 177.22h5 M313 173.22h2.4 M313 169.21h2.4 M313 165.21h2.4 M313 161.2h2.4 M310.4 157.2h5" stroke="#3a3a3a" stroke-width="0.9" fill="none"/>
<text x="307.9" y="239.98" text-anchor="end" font-size="7.6" fill="#222" stroke="#222" stroke-width="0.2">20</text>
<text x="307.9" y="219.96" text-anchor="end" font-size="7.6" fill="#222" stroke="#222" stroke-width="0.2">40</text>
<text x="307.9" y="199.94" text-anchor="end" font-size="7.6" fill="#222" stroke="#222" stroke-width="0.2">60</text>
<text x="307.9" y="179.92" text-anchor="end" font-size="7.6" fill="#222" stroke="#222" stroke-width="0.2">80</text>
<text x="307.9" y="159.9" text-anchor="end" font-size="7.6" fill="#222" stroke="#222" stroke-width="0.2">100</text>
<path d="M318.39 257.3v2.2 M320.23 257.3v2.2 M321.73 257.3v2.2 M323 257.3v2.2 M324.1 257.3v2.2 M325.07 257.3v2.2 M325.94 257.3v4.2 M331.65 257.3v2.2 M334.99 257.3v2.2 M337.36 257.3v2.2 M339.2 257.3v2.2 M340.7 257.3v2.2 M341.97 257.3v2.2 M343.07 257.3v2.2 M344.04 257.3v2.2 M344.91 257.3v4.2 M350.62 257.3v2.2 M353.96 257.3v2.2 M356.33 257.3v2.2 M358.17 257.3v2.2 M359.68 257.3v2.2 M360.95 257.3v2.2 M362.05 257.3v2.2 M363.02 257.3v2.2 M363.88 257.3v4.2 M369.6 257.3v2.2 M372.94 257.3v2.2 M375.31 257.3v2.2 M377.14 257.3v2.2 M378.65 257.3v2.2 M379.92 257.3v2.2 M381.02 257.3v2.2 M381.99 257.3v2.2 M382.86 257.3v4.2 M388.57 257.3v2.2 M391.91 257.3v2.2 M394.28 257.3v2.2 M396.12 257.3v2.2 M397.62 257.3v2.2 M398.89 257.3v2.2 M399.99 257.3v2.2 M400.96 257.3v2.2 M401.83 257.3v4.2 M407.54 257.3v2.2 M410.88 257.3v2.2 M413.25 257.3v2.2 M415.09 257.3v2.2 M416.59 257.3v2.2 M417.86 257.3v2.2 M418.96 257.3v2.2 M419.93 257.3v2.2" stroke="#3a3a3a" stroke-width="0.8" fill="none"/>
<text x="321.74" y="279" font-size="8" fill="#222" stroke="#222" stroke-width="0.2">10<tspan dy="-5.6" dx="0.3" font-size="7.6">1</tspan></text>
<text x="340.71" y="279" font-size="8" fill="#222" stroke="#222" stroke-width="0.2">10<tspan dy="-5.6" dx="0.3" font-size="7.6">2</tspan></text>
<text x="359.68" y="279" font-size="8" fill="#222" stroke="#222" stroke-width="0.2">10<tspan dy="-5.6" dx="0.3" font-size="7.6">3</tspan></text>
<text x="378.66" y="279" font-size="8" fill="#222" stroke="#222" stroke-width="0.2">10<tspan dy="-5.6" dx="0.3" font-size="7.6">4</tspan></text>
<text x="397.63" y="279" font-size="8" fill="#222" stroke="#222" stroke-width="0.2">10<tspan dy="-5.6" dx="0.3" font-size="7.6">5</tspan></text>
<text transform="translate(322 177.3) scale(1.13 1)" font-size="19" font-weight="bold" fill="#000">30 µM</text>
<path d="M23.2 152.5 V81" stroke="#000" stroke-width="2.6" fill="none"/>
<path d="M14.4 95.1 L23.2 80.5 L32 95.1" stroke="#000" stroke-width="2.6" fill="none" stroke-linejoin="miter"/>
<text transform="translate(30 234.5) rotate(-90)" font-size="21" font-weight="bold">Counts</text>
<text x="75.5" y="298.2" font-size="21" font-weight="bold">CFSE</text>
<path d="M137.5 292.3 H363" stroke="#000" stroke-width="2.6" fill="none"/>
<path d="M347 283 L363.8 292.5 L347 302" stroke="#000" stroke-width="2.6" fill="none" stroke-linejoin="miter"/>
</g>
<g font-family='"Liberation Sans", sans-serif' font-weight="bold" fill="#000">
<text x="-0.2" y="326.2" font-size="25.8">B</text>
<path d="M71.2 376.35 V518 H257" stroke="#000" stroke-width="1.8" fill="none"/>
<text x="64.3" y="525.3" text-anchor="end" font-size="20.5">0</text>
<text x="64.3" y="490.1" text-anchor="end" font-size="20.5">20</text>
<text x="64.3" y="454.9" text-anchor="end" font-size="20.5">40</text>
<text x="64.3" y="419.7" text-anchor="end" font-size="20.5">60</text>
<text x="64.3" y="384.5" text-anchor="end" font-size="20.5">80</text>
<path d="M71.2 518h-6 M71.2 482.8h-6 M71.2 447.6h-6 M71.2 412.4h-6 M71.2 377.2h-6" stroke="#000" stroke-width="1.7" fill="none"/>
<rect x="75.5" y="400.3" width="22.3" height="117.7" fill="#000"/>
<path d="M86.65 400.3 V388.4 M80.85 388.4 h11.6" stroke="#000" stroke-width="1.8" fill="none"/>
<text x="86.65" y="539.8" text-anchor="middle" font-size="21">0</text>
<rect x="106.4" y="429.8" width="22.3" height="88.2" fill="#000"/>
<path d="M117.55 429.8 V417.2 M111.75 417.2 h11.6" stroke="#000" stroke-width="1.8" fill="none"/>
<text x="118.05" y="419.2" text-anchor="middle" font-size="20" letter-spacing="1.1">*</text>
<text x="117.55" y="539.8" text-anchor="middle" font-size="21">0.3</text>
<rect x="137" y="459.7" width="22.3" height="58.3" fill="#000"/>
<path d="M148.15 459.7 V449.6 M142.35 449.6 h11.6" stroke="#000" stroke-width="1.8" fill="none"/>
<text x="148.65" y="449.7" text-anchor="middle" font-size="20" letter-spacing="1.1">***</text>
<text x="148.15" y="539.8" text-anchor="middle" font-size="21">1</text>
<rect x="167.8" y="465.7" width="22.3" height="52.3" fill="#000"/>
<path d="M178.95 465.7 V453.6 M173.15 453.6 h11.6" stroke="#000" stroke-width="1.8" fill="none"/>
<text x="179.45" y="453.7" text-anchor="middle" font-size="20" letter-spacing="1.1">***</text>
<text x="178.95" y="539.8" text-anchor="middle" font-size="21">3</text>
<rect x="198.5" y="469" width="22.3" height="49" fill="#000"/>
<path d="M209.65 469 V459.7 M203.85 459.7 h11.6" stroke="#000" stroke-width="1.8" fill="none"/>
<text x="210.15" y="460.9" text-anchor="middle" font-size="20" letter-spacing="1.1">***</text>
<text x="209.65" y="539.8" text-anchor="middle" font-size="21">10</text>
<rect x="229.3" y="469" width="22.3" height="49" fill="#000"/>
<path d="M240.45 469 V459.7 M234.65 459.7 h11.6" stroke="#000" stroke-width="1.8" fill="none"/>
<text x="240.95" y="460.9" text-anchor="middle" font-size="20" letter-spacing="1.1">***</text>
<text x="240.45" y="539.8" text-anchor="middle" font-size="21">30</text>
<text x="154" y="568" text-anchor="middle" font-size="21" font-weight="bold">len (<tspan font-family='"Liberation Serif", "DejaVu Serif", serif' font-weight="normal" stroke="#000" stroke-width="0.45" font-size="22.26">μ</tspan>M)</text>
<text transform="translate(33.6 546.9) rotate(-90)" font-size="21" textLength="210.5" lengthAdjust="spacing">% dividing CLL cells</text>
<text x="294.2" y="327.2" font-size="25.8">C</text>
<path d="M354.6 358.35 V497.7 H517.5" stroke="#000" stroke-width="1.7" fill="none"/>
<text x="346.8" y="504.7" text-anchor="end" font-size="19.5">0</text>
<text x="346.8" y="477" text-anchor="end" font-size="19.5">20</text>
<text x="346.8" y="449.3" text-anchor="end" font-size="19.5">40</text>
<text x="346.8" y="421.6" text-anchor="end" font-size="19.5">60</text>
<text x="346.8" y="393.9" text-anchor="end" font-size="19.5">80</text>
<text x="346.8" y="366.2" text-anchor="end" font-size="19.5">100</text>
<path d="M354.6 497.7h-6 M354.6 470h-6 M354.6 442.3h-6 M354.6 414.6h-6 M354.6 386.9h-6 M354.6 359.2h-6 M368.2 497.7v4.8 M395.55 497.7v4.8 M422.9 497.7v4.8 M450.25 497.7v4.8 M477.6 497.7v4.8 M504.95 497.7v4.8" stroke="#000" stroke-width="1.7" fill="none"/>
<text x="372.5" y="345" font-size="21">G0/G1 phase</text>
<rect x="359.45" y="393.15" width="17.9" height="23.7" rx="1.2" fill="#fff" stroke="#000" stroke-width="1.9"/>
<path d="M359.3 403 H377.5" stroke="#000" stroke-width="1.7"/>
<rect x="386.15" y="382.65" width="18.5" height="14.7" rx="1.2" fill="#fff" stroke="#000" stroke-width="1.9"/>
<path d="M386 390 H404.8" stroke="#000" stroke-width="1.7"/>
<rect x="412.95" y="378.85" width="18.4" height="9.2" rx="1.2" fill="#fff" stroke="#000" stroke-width="1.9"/>
<path d="M412.8 383.6 H431.5" stroke="#000" stroke-width="1.7"/>
<rect x="440.65" y="377.45" width="18.7" height="7.6" rx="1.2" fill="#fff" stroke="#000" stroke-width="1.9"/>
<path d="M440.5 382.4 H459.5" stroke="#000" stroke-width="1.7"/>
<rect x="468.15" y="378.85" width="18.7" height="9.2" rx="1.2" fill="#fff" stroke="#000" stroke-width="1.9"/>
<path d="M468 383.6 H487" stroke="#000" stroke-width="1.7"/>
<rect x="495.5" y="381.6" width="19.5" height="4.6" rx="1.5" fill="#000"/>
<text x="396.2" y="381.6" text-anchor="middle" font-size="21" letter-spacing="0.4">*</text>
<text x="422.9" y="380.35" text-anchor="middle" font-size="21" letter-spacing="0.4">**</text>
<text x="450.2" y="378.7" text-anchor="middle" font-size="21" letter-spacing="0.4">**</text>
<text x="478.2" y="380.35" text-anchor="middle" font-size="21" letter-spacing="0.4">**</text>
<text x="505" y="380.35" text-anchor="middle" font-size="21" letter-spacing="0.4">**</text>
<path d="M354.6 529.15 V669 H517.5" stroke="#000" stroke-width="1.7" fill="none"/>
<text x="346.8" y="676" text-anchor="end" font-size="19.5">0</text>
<text x="346.8" y="641.25" text-anchor="end" font-size="19.5">5</text>
<text x="346.8" y="606.5" text-anchor="end" font-size="19.5">10</text>
<text x="346.8" y="571.75" text-anchor="end" font-size="19.5">15</text>
<text x="346.8" y="537" text-anchor="end" font-size="19.5">20</text>
<path d="M354.6 669h-6 M354.6 634.25h-6 M354.6 599.5h-6 M354.6 564.75h-6 M354.6 530h-6 M368.2 669v4.8 M395.55 669v4.8 M422.9 669v4.8 M450.25 669v4.8 M477.6 669v4.8 M504.95 669v4.8" stroke="#000" stroke-width="1.7" fill="none"/>
<text x="400.5" y="542" font-size="21">S phase</text>
<rect x="359.25" y="558.15" width="18.1" height="55.3" rx="1.2" fill="#fff" stroke="#000" stroke-width="1.9"/>
<path d="M359.1 594.7 H377.5" stroke="#000" stroke-width="1.7"/>
<rect x="386.35" y="603.15" width="18.2" height="32.3" rx="1.2" fill="#fff" stroke="#000" stroke-width="1.9"/>
<path d="M386.2 621.4 H404.7" stroke="#000" stroke-width="1.7"/>
<rect x="413.65" y="634.65" width="17.7" height="18.2" rx="1.2" fill="#fff" stroke="#000" stroke-width="1.9"/>
<path d="M413.5 644.2 H431.5" stroke="#000" stroke-width="1.7"/>
<rect x="440.65" y="633.85" width="18" height="18" rx="1.2" fill="#fff" stroke="#000" stroke-width="1.9"/>
<path d="M440.5 643.2 H458.8" stroke="#000" stroke-width="1.7"/>
<rect x="467.95" y="633.85" width="18.2" height="18" rx="1.2" fill="#fff" stroke="#000" stroke-width="1.9"/>
<path d="M467.8 644.2 H486.3" stroke="#000" stroke-width="1.7"/>
<rect x="494.95" y="641.85" width="18.7" height="11" rx="1.2" fill="#fff" stroke="#000" stroke-width="1.9"/>
<path d="M494.8 648.2 H513.8" stroke="#000" stroke-width="1.7"/>
<text x="422.6" y="636.85" text-anchor="middle" font-size="21" letter-spacing="0.4">**</text>
<text x="450.5" y="635.5" text-anchor="middle" font-size="21" letter-spacing="0.4">**</text>
<text x="478.2" y="635.5" text-anchor="middle" font-size="21" letter-spacing="0.4">***</text>
<text x="505.7" y="645.7" text-anchor="middle" font-size="21" letter-spacing="0.4">***</text>
<path d="M353.5 704.65 V844.3 H517.5" stroke="#000" stroke-width="1.7" fill="none"/>
<text x="346.8" y="850.7" text-anchor="end" font-size="19.5">0</text>
<text x="346.8" y="816" text-anchor="end" font-size="19.5">5</text>
<text x="346.8" y="781.3" text-anchor="end" font-size="19.5">10</text>
<text x="346.8" y="746.6" text-anchor="end" font-size="19.5">15</text>
<text x="346.8" y="711.9" text-anchor="end" font-size="19.5">20</text>
<path d="M353.5 844.3h-6 M353.5 809.6h-6 M353.5 774.9h-6 M353.5 740.2h-6 M353.5 705.5h-6 M367.5 844.3v4.8 M394.85 844.3v4.8 M422.2 844.3v4.8 M449.55 844.3v4.8 M476.9 844.3v4.8 M504.25 844.3v4.8" stroke="#000" stroke-width="1.7" fill="none"/>
<text x="377" y="710.5" font-size="21">G2/M phase</text>
<rect x="358.25" y="735.15" width="18.1" height="46" rx="1.2" fill="#fff" stroke="#000" stroke-width="1.9"/>
<path d="M358.1 762.5 H376.5" stroke="#000" stroke-width="1.7"/>
<rect x="385.45" y="794.65" width="18.4" height="11.2" rx="1.2" fill="#fff" stroke="#000" stroke-width="1.9"/>
<path d="M385.3 800 H404" stroke="#000" stroke-width="1.7"/>
<rect x="412.45" y="800.15" width="18.2" height="9.7" rx="1.2" fill="#fff" stroke="#000" stroke-width="1.9"/>
<path d="M412.3 805 H430.8" stroke="#000" stroke-width="1.7"/>
<rect x="439.95" y="807.45" width="18.2" height="5.4" rx="1.2" fill="#fff" stroke="#000" stroke-width="1.9"/>
<path d="M439.8 810 H458.3" stroke="#000" stroke-width="1.7"/>
<rect x="467" y="811.2" width="19.3" height="4" rx="1.5" fill="#000"/>
<rect x="494.5" y="809.3" width="19.3" height="5.3" rx="1.5" fill="#000"/>
<text x="395.1" y="796.3" text-anchor="middle" font-size="21" letter-spacing="0.4">*</text>
<text x="422.6" y="802.7" text-anchor="middle" font-size="21" letter-spacing="0.4">**</text>
<text x="449.9" y="810.3" text-anchor="middle" font-size="21" letter-spacing="0.4">**</text>
<text x="477.8" y="814.2" text-anchor="middle" font-size="21" letter-spacing="0.4">**</text>
<text x="504.6" y="813.4" text-anchor="middle" font-size="21" letter-spacing="0.4">**</text>
<rect x="441.6" y="808.6" width="15.6" height="2.6" fill="#777"/>
<text x="367.4" y="868" text-anchor="middle" font-size="19.5">0</text>
<text x="395.75" y="868" text-anchor="middle" font-size="19.5">0.3</text>
<text x="422.1" y="868" text-anchor="middle" font-size="19.5">1</text>
<text x="449.45" y="868" text-anchor="middle" font-size="19.5">3</text>
<text x="476.8" y="868" text-anchor="middle" font-size="19.5">10</text>
<text x="504.15" y="868" text-anchor="middle" font-size="19.5">30</text>
<text x="438" y="893" text-anchor="middle" font-size="21" font-weight="bold">len (<tspan font-family='"Liberation Serif", "DejaVu Serif", serif' font-weight="normal" stroke="#000" stroke-width="0.45" font-size="22.26">μ</tspan>M)</text>
<text transform="translate(314 703.2) rotate(-90)" font-size="21" textLength="200.5" lengthAdjust="spacing">Percent CLL cells in</text>
<text x="0" y="601.8" font-size="25.6">D</text>
<path d="M72 642.55 V783.2 H106.2 v-2.4" stroke="#000" stroke-width="1.7" fill="none"/>
<path d="M116.6 780.2 v6 M116.6 783.2 H285" stroke="#000" stroke-width="1.7" fill="none"/>
<text x="65.8" y="790.4" text-anchor="end" font-size="20.5">0</text>
<text x="65.8" y="755.45" text-anchor="end" font-size="20.5">25</text>
<text x="65.8" y="720.5" text-anchor="end" font-size="20.5">50</text>
<text x="65.8" y="685.55" text-anchor="end" font-size="20.5">75</text>
<text x="65.8" y="650.6" text-anchor="end" font-size="20.5">100</text>
<path d="M72 783.2h-6 M72 748.25h-6 M72 713.3h-6 M72 678.35h-6 M72 643.4h-6 M89.5 783.2v4 M133.53 783.2v2.6 M143.37 783.2v2.6 M150.36 783.2v2.6 M155.77 783.2v2.6 M160.2 783.2v2.6 M163.94 783.2v2.6 M167.18 783.2v2.6 M170.04 783.2v2.6 M172.6 783.2v4.5 M189.43 783.2v2.6 M199.27 783.2v2.6 M206.26 783.2v2.6 M211.67 783.2v2.6 M216.1 783.2v2.6 M219.84 783.2v2.6 M223.08 783.2v2.6 M225.94 783.2v2.6 M228.5 783.2v4.5 M245.33 783.2v2.6 M255.17 783.2v2.6 M262.16 783.2v2.6 M267.57 783.2v2.6 M272 783.2v2.6 M275.74 783.2v2.6 M278.98 783.2v2.6 M281.84 783.2v2.6 M284.4 783.2v4.5" stroke="#000" stroke-width="1.5" fill="none"/>
<text x="89" y="807.6" text-anchor="middle" font-size="19.5">0</text>
<text x="116.3" y="807.6" text-anchor="middle" font-size="19.5">0.1</text>
<text x="173.3" y="807.6" text-anchor="middle" font-size="19.5">1</text>
<text x="229" y="807.6" text-anchor="middle" font-size="19.5">10</text>
<text x="286" y="807.6" text-anchor="middle" font-size="19.5">100</text>
<path d="M89.5 658.3 H105.8 M117.5 658.8 L143.3 659.2 L172.6 659.2 L199.2 658.8 L228.3 659 L255 659.4" stroke="#000" stroke-width="1.5" fill="none"/>
<circle cx="89.5" cy="658.3" r="3.25" fill="#000"/>
<circle cx="143.3" cy="659.2" r="3.25" fill="#000"/>
<circle cx="172.6" cy="659.2" r="3.25" fill="#000"/>
<circle cx="199.2" cy="658.8" r="3.25" fill="#000"/>
<circle cx="228.3" cy="659" r="3.25" fill="#000"/>
<circle cx="255" cy="659.4" r="3.25" fill="#000"/>
<path d="M172.6 655.2 v8 M169.3 655.6 h6.6 M169.3 662.8 h6.6" stroke="#000" stroke-width="1.5" fill="none"/>
<path d="M228.3 655 v8 M225 655.4 h6.6 M225 662.6 h6.6" stroke="#000" stroke-width="1.5" fill="none"/>
<text x="178.5" y="836.3" text-anchor="middle" font-size="21" font-weight="bold">len (<tspan font-family='"Liberation Serif", "DejaVu Serif", serif' font-weight="normal" stroke="#000" stroke-width="0.45" font-size="22.26">μ</tspan>M)</text>
<text transform="translate(23.5 799) rotate(-90)" font-size="21" textLength="184" lengthAdjust="spacing">% viable CLL cells</text>
</g>
</svg>
</body>
</html>
